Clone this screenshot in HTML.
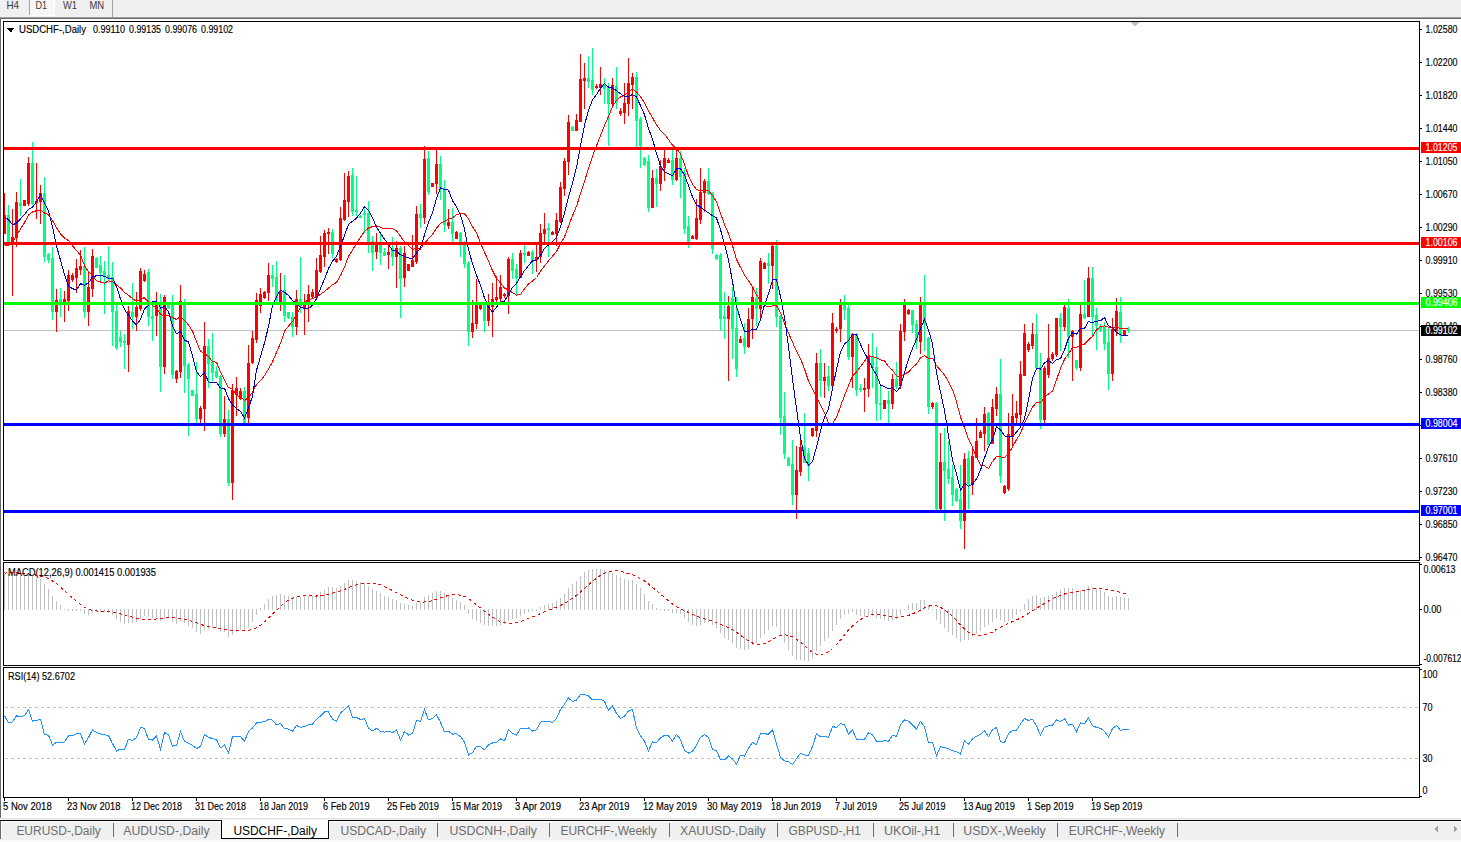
<!DOCTYPE html>
<html><head><meta charset="utf-8"><style>
html,body{margin:0;padding:0;width:1461px;height:842px;overflow:hidden;background:#fff;}
svg{position:absolute;left:0;top:0;font-family:"Liberation Sans",sans-serif;}
</style></head><body>
<svg width="1461" height="842" viewBox="0 0 1461 842" shape-rendering="crispEdges">
<rect x="0" y="0" width="1461" height="17" fill="#f0f0f0"/>
<defs><pattern id="dith" x="0" y="0" width="2" height="2" patternUnits="userSpaceOnUse"><rect x="0" y="0" width="2" height="2" fill="#f0f0f0"/><rect x="0" y="0" width="1" height="1" fill="#ffffff"/><rect x="1" y="1" width="1" height="1" fill="#ffffff"/></pattern></defs>
<rect x="30" y="0" width="24" height="15" fill="url(#dith)"/>
<rect x="29" y="15" width="26" height="1" fill="#ffffff"/>
<rect x="54" y="0" width="1" height="16" fill="#ffffff"/>
<rect x="29" y="0" width="1" height="15" fill="#a0a0a0"/>
<rect x="112" y="0" width="1" height="17" fill="#a0a0a0"/>
<rect x="0" y="17" width="1461" height="1" fill="#a0a0a0"/>
<rect x="0" y="18" width="1461" height="1" fill="#696969"/>
<rect x="0" y="18" width="1" height="800" fill="#696969"/>
<text x="6.5" y="9" font-size="10.5" fill="#3a3a3a" textLength="12.6" lengthAdjust="spacingAndGlyphs" >H4</text>
<text x="35.5" y="9" font-size="10.5" fill="#3a3a3a" textLength="11.7" lengthAdjust="spacingAndGlyphs" >D1</text>
<text x="63" y="9" font-size="10.5" fill="#3a3a3a" textLength="14" lengthAdjust="spacingAndGlyphs" >W1</text>
<text x="89.5" y="9" font-size="10.5" fill="#3a3a3a" textLength="14.7" lengthAdjust="spacingAndGlyphs" >MN</text>
<rect x="4" y="330" width="1415" height="1" fill="#c0c0c0"/>
<polygon points="1130,22 1139,22 1134.5,26.5" fill="#c0c0c0"/>
<g><rect x="4" y="193" width="1" height="41" fill="#ff0000"/>
<rect x="3" y="215" width="3" height="19" fill="#ff0000"/>
<rect x="8" y="205" width="1" height="38" fill="#00ff7f"/>
<rect x="7" y="215" width="3" height="28" fill="#00ff7f"/>
<rect x="12" y="209" width="1" height="87" fill="#ff0000"/>
<rect x="11" y="237" width="3" height="6" fill="#ff0000"/>
<rect x="16" y="192" width="1" height="55" fill="#ff0000"/>
<rect x="15" y="202" width="3" height="36" fill="#ff0000"/>
<rect x="20" y="179" width="1" height="37" fill="#00ff7f"/>
<rect x="19" y="203" width="3" height="3" fill="#00ff7f"/>
<rect x="24" y="200" width="1" height="6" fill="#ff0000"/>
<rect x="23" y="200" width="3" height="6" fill="#ff0000"/>
<rect x="28" y="157" width="1" height="49" fill="#ff0000"/>
<rect x="27" y="163" width="3" height="41" fill="#ff0000"/>
<rect x="32" y="142" width="1" height="63" fill="#00ff7f"/>
<rect x="31" y="163" width="3" height="41" fill="#00ff7f"/>
<rect x="36" y="163" width="1" height="56" fill="#ff0000"/>
<rect x="35" y="201" width="3" height="2" fill="#ff0000"/>
<rect x="40" y="185" width="1" height="39" fill="#ff0000"/>
<rect x="39" y="193" width="3" height="9" fill="#ff0000"/>
<rect x="44" y="177" width="1" height="85" fill="#00ff7f"/>
<rect x="43" y="193" width="3" height="64" fill="#00ff7f"/>
<rect x="48" y="253" width="1" height="10" fill="#00ff7f"/>
<rect x="47" y="254" width="3" height="6" fill="#00ff7f"/>
<rect x="52" y="247" width="1" height="73" fill="#00ff7f"/>
<rect x="51" y="258" width="3" height="54" fill="#00ff7f"/>
<rect x="56" y="289" width="1" height="43" fill="#ff0000"/>
<rect x="55" y="300" width="3" height="12" fill="#ff0000"/>
<rect x="60" y="288" width="1" height="29" fill="#00ff7f"/>
<rect x="59" y="299" width="3" height="4" fill="#00ff7f"/>
<rect x="64" y="291" width="1" height="31" fill="#ff0000"/>
<rect x="63" y="299" width="3" height="4" fill="#ff0000"/>
<rect x="68" y="270" width="1" height="41" fill="#ff0000"/>
<rect x="67" y="275" width="3" height="26" fill="#ff0000"/>
<rect x="72" y="273" width="1" height="9" fill="#ff0000"/>
<rect x="71" y="275" width="3" height="5" fill="#ff0000"/>
<rect x="76" y="259" width="1" height="34" fill="#ff0000"/>
<rect x="75" y="268" width="3" height="10" fill="#ff0000"/>
<rect x="80" y="250" width="1" height="25" fill="#ff0000"/>
<rect x="79" y="266" width="3" height="4" fill="#ff0000"/>
<rect x="84" y="247" width="1" height="71" fill="#00ff7f"/>
<rect x="83" y="266" width="3" height="46" fill="#00ff7f"/>
<rect x="88" y="272" width="1" height="54" fill="#ff0000"/>
<rect x="87" y="287" width="3" height="25" fill="#ff0000"/>
<rect x="92" y="249" width="1" height="48" fill="#ff0000"/>
<rect x="91" y="256" width="3" height="33" fill="#ff0000"/>
<rect x="96" y="257" width="1" height="11" fill="#00ff7f"/>
<rect x="95" y="258" width="3" height="10" fill="#00ff7f"/>
<rect x="100" y="256" width="1" height="27" fill="#00ff7f"/>
<rect x="99" y="265" width="3" height="8" fill="#00ff7f"/>
<rect x="104" y="261" width="1" height="53" fill="#00ff7f"/>
<rect x="103" y="271" width="3" height="6" fill="#00ff7f"/>
<rect x="108" y="246" width="1" height="34" fill="#00ff7f"/>
<rect x="107" y="275" width="3" height="4" fill="#00ff7f"/>
<rect x="112" y="262" width="1" height="84" fill="#00ff7f"/>
<rect x="111" y="277" width="3" height="35" fill="#00ff7f"/>
<rect x="116" y="305" width="1" height="45" fill="#00ff7f"/>
<rect x="115" y="311" width="3" height="37" fill="#00ff7f"/>
<rect x="120" y="331" width="1" height="16" fill="#00ff7f"/>
<rect x="119" y="337" width="3" height="5" fill="#00ff7f"/>
<rect x="124" y="334" width="1" height="35" fill="#00ff7f"/>
<rect x="123" y="341" width="3" height="2" fill="#00ff7f"/>
<rect x="128" y="306" width="1" height="66" fill="#ff0000"/>
<rect x="127" y="311" width="3" height="34" fill="#ff0000"/>
<rect x="132" y="283" width="1" height="46" fill="#00ff7f"/>
<rect x="131" y="312" width="3" height="5" fill="#00ff7f"/>
<rect x="136" y="292" width="1" height="39" fill="#ff0000"/>
<rect x="135" y="307" width="3" height="10" fill="#ff0000"/>
<rect x="140" y="268" width="1" height="43" fill="#ff0000"/>
<rect x="139" y="271" width="3" height="38" fill="#ff0000"/>
<rect x="144" y="270" width="1" height="12" fill="#ff0000"/>
<rect x="143" y="274" width="3" height="7" fill="#ff0000"/>
<rect x="148" y="269" width="1" height="57" fill="#00ff7f"/>
<rect x="147" y="272" width="3" height="45" fill="#00ff7f"/>
<rect x="152" y="306" width="1" height="35" fill="#00ff7f"/>
<rect x="151" y="316" width="3" height="3" fill="#00ff7f"/>
<rect x="156" y="292" width="1" height="44" fill="#ff0000"/>
<rect x="155" y="304" width="3" height="12" fill="#ff0000"/>
<rect x="160" y="294" width="1" height="98" fill="#00ff7f"/>
<rect x="159" y="305" width="3" height="62" fill="#00ff7f"/>
<rect x="164" y="295" width="1" height="79" fill="#ff0000"/>
<rect x="163" y="297" width="3" height="70" fill="#ff0000"/>
<rect x="168" y="304" width="1" height="5" fill="#00ff7f"/>
<rect x="167" y="305" width="3" height="3" fill="#00ff7f"/>
<rect x="172" y="295" width="1" height="84" fill="#00ff7f"/>
<rect x="171" y="305" width="3" height="70" fill="#00ff7f"/>
<rect x="176" y="370" width="1" height="13" fill="#ff0000"/>
<rect x="175" y="371" width="3" height="8" fill="#ff0000"/>
<rect x="180" y="285" width="1" height="93" fill="#ff0000"/>
<rect x="179" y="301" width="3" height="71" fill="#ff0000"/>
<rect x="184" y="299" width="1" height="94" fill="#00ff7f"/>
<rect x="183" y="302" width="3" height="64" fill="#00ff7f"/>
<rect x="188" y="363" width="1" height="73" fill="#00ff7f"/>
<rect x="187" y="365" width="3" height="14" fill="#00ff7f"/>
<rect x="192" y="390" width="1" height="6" fill="#00ff7f"/>
<rect x="191" y="390" width="3" height="6" fill="#00ff7f"/>
<rect x="196" y="362" width="1" height="61" fill="#00ff7f"/>
<rect x="195" y="394" width="3" height="25" fill="#00ff7f"/>
<rect x="200" y="406" width="1" height="17" fill="#ff0000"/>
<rect x="199" y="408" width="3" height="11" fill="#ff0000"/>
<rect x="204" y="322" width="1" height="109" fill="#ff0000"/>
<rect x="203" y="346" width="3" height="63" fill="#ff0000"/>
<rect x="208" y="339" width="1" height="49" fill="#00ff7f"/>
<rect x="207" y="346" width="3" height="18" fill="#00ff7f"/>
<rect x="212" y="333" width="1" height="48" fill="#00ff7f"/>
<rect x="211" y="362" width="3" height="11" fill="#00ff7f"/>
<rect x="216" y="366" width="1" height="12" fill="#00ff7f"/>
<rect x="215" y="371" width="3" height="6" fill="#00ff7f"/>
<rect x="220" y="375" width="1" height="62" fill="#00ff7f"/>
<rect x="219" y="376" width="3" height="58" fill="#00ff7f"/>
<rect x="224" y="396" width="1" height="41" fill="#ff0000"/>
<rect x="223" y="419" width="3" height="15" fill="#ff0000"/>
<rect x="228" y="410" width="1" height="76" fill="#00ff7f"/>
<rect x="227" y="419" width="3" height="64" fill="#00ff7f"/>
<rect x="232" y="384" width="1" height="116" fill="#ff0000"/>
<rect x="231" y="390" width="3" height="93" fill="#ff0000"/>
<rect x="236" y="377" width="1" height="39" fill="#ff0000"/>
<rect x="235" y="388" width="3" height="7" fill="#ff0000"/>
<rect x="240" y="388" width="1" height="12" fill="#ff0000"/>
<rect x="239" y="391" width="3" height="8" fill="#ff0000"/>
<rect x="244" y="387" width="1" height="37" fill="#00ff7f"/>
<rect x="243" y="391" width="3" height="32" fill="#00ff7f"/>
<rect x="248" y="345" width="1" height="79" fill="#ff0000"/>
<rect x="247" y="363" width="3" height="55" fill="#ff0000"/>
<rect x="252" y="331" width="1" height="33" fill="#ff0000"/>
<rect x="251" y="338" width="3" height="25" fill="#ff0000"/>
<rect x="256" y="293" width="1" height="50" fill="#ff0000"/>
<rect x="255" y="300" width="3" height="40" fill="#ff0000"/>
<rect x="260" y="288" width="1" height="25" fill="#ff0000"/>
<rect x="259" y="294" width="3" height="12" fill="#ff0000"/>
<rect x="264" y="291" width="1" height="8" fill="#ff0000"/>
<rect x="263" y="292" width="3" height="6" fill="#ff0000"/>
<rect x="268" y="263" width="1" height="38" fill="#ff0000"/>
<rect x="267" y="275" width="3" height="18" fill="#ff0000"/>
<rect x="272" y="265" width="1" height="22" fill="#00ff7f"/>
<rect x="271" y="275" width="3" height="4" fill="#00ff7f"/>
<rect x="276" y="261" width="1" height="42" fill="#00ff7f"/>
<rect x="275" y="277" width="3" height="24" fill="#00ff7f"/>
<rect x="280" y="273" width="1" height="38" fill="#ff0000"/>
<rect x="279" y="292" width="3" height="11" fill="#ff0000"/>
<rect x="284" y="275" width="1" height="47" fill="#00ff7f"/>
<rect x="283" y="290" width="3" height="26" fill="#00ff7f"/>
<rect x="288" y="312" width="1" height="7" fill="#00ff7f"/>
<rect x="287" y="312" width="3" height="6" fill="#00ff7f"/>
<rect x="292" y="312" width="1" height="25" fill="#00ff7f"/>
<rect x="291" y="317" width="3" height="10" fill="#00ff7f"/>
<rect x="296" y="290" width="1" height="45" fill="#ff0000"/>
<rect x="295" y="299" width="3" height="28" fill="#ff0000"/>
<rect x="300" y="257" width="1" height="56" fill="#00ff7f"/>
<rect x="299" y="299" width="3" height="7" fill="#00ff7f"/>
<rect x="304" y="294" width="1" height="41" fill="#ff0000"/>
<rect x="303" y="304" width="3" height="4" fill="#ff0000"/>
<rect x="308" y="285" width="1" height="37" fill="#ff0000"/>
<rect x="307" y="294" width="3" height="11" fill="#ff0000"/>
<rect x="312" y="289" width="1" height="9" fill="#ff0000"/>
<rect x="311" y="292" width="3" height="5" fill="#ff0000"/>
<rect x="316" y="258" width="1" height="40" fill="#ff0000"/>
<rect x="315" y="270" width="3" height="28" fill="#ff0000"/>
<rect x="320" y="236" width="1" height="37" fill="#ff0000"/>
<rect x="319" y="255" width="3" height="17" fill="#ff0000"/>
<rect x="324" y="230" width="1" height="37" fill="#ff0000"/>
<rect x="323" y="233" width="3" height="24" fill="#ff0000"/>
<rect x="328" y="228" width="1" height="26" fill="#ff0000"/>
<rect x="327" y="232" width="3" height="2" fill="#ff0000"/>
<rect x="332" y="229" width="1" height="29" fill="#00ff7f"/>
<rect x="331" y="232" width="3" height="22" fill="#00ff7f"/>
<rect x="336" y="258" width="1" height="5" fill="#ff0000"/>
<rect x="335" y="259" width="3" height="3" fill="#ff0000"/>
<rect x="340" y="207" width="1" height="54" fill="#ff0000"/>
<rect x="339" y="218" width="3" height="42" fill="#ff0000"/>
<rect x="344" y="173" width="1" height="48" fill="#ff0000"/>
<rect x="343" y="200" width="3" height="20" fill="#ff0000"/>
<rect x="348" y="171" width="1" height="46" fill="#ff0000"/>
<rect x="347" y="176" width="3" height="26" fill="#ff0000"/>
<rect x="352" y="168" width="1" height="48" fill="#00ff7f"/>
<rect x="351" y="175" width="3" height="37" fill="#00ff7f"/>
<rect x="356" y="176" width="1" height="40" fill="#00ff7f"/>
<rect x="355" y="210" width="3" height="2" fill="#00ff7f"/>
<rect x="360" y="215" width="1" height="3" fill="#00ff7f"/>
<rect x="359" y="216" width="3" height="2" fill="#00ff7f"/>
<rect x="364" y="209" width="1" height="24" fill="#00ff7f"/>
<rect x="363" y="213" width="3" height="2" fill="#00ff7f"/>
<rect x="368" y="201" width="1" height="52" fill="#00ff7f"/>
<rect x="367" y="213" width="3" height="31" fill="#00ff7f"/>
<rect x="372" y="236" width="1" height="35" fill="#00ff7f"/>
<rect x="371" y="241" width="3" height="12" fill="#00ff7f"/>
<rect x="376" y="233" width="1" height="26" fill="#ff0000"/>
<rect x="375" y="243" width="3" height="9" fill="#ff0000"/>
<rect x="380" y="233" width="1" height="32" fill="#00ff7f"/>
<rect x="379" y="244" width="3" height="9" fill="#00ff7f"/>
<rect x="384" y="248" width="1" height="8" fill="#00ff7f"/>
<rect x="383" y="252" width="3" height="4" fill="#00ff7f"/>
<rect x="388" y="243" width="1" height="26" fill="#ff0000"/>
<rect x="387" y="252" width="3" height="3" fill="#ff0000"/>
<rect x="392" y="237" width="1" height="29" fill="#00ff7f"/>
<rect x="391" y="248" width="3" height="9" fill="#00ff7f"/>
<rect x="396" y="241" width="1" height="47" fill="#ff0000"/>
<rect x="395" y="248" width="3" height="9" fill="#ff0000"/>
<rect x="400" y="246" width="1" height="72" fill="#00ff7f"/>
<rect x="399" y="248" width="3" height="31" fill="#00ff7f"/>
<rect x="404" y="246" width="1" height="41" fill="#ff0000"/>
<rect x="403" y="253" width="3" height="25" fill="#ff0000"/>
<rect x="408" y="264" width="1" height="7" fill="#ff0000"/>
<rect x="407" y="264" width="3" height="7" fill="#ff0000"/>
<rect x="412" y="235" width="1" height="32" fill="#ff0000"/>
<rect x="411" y="260" width="3" height="7" fill="#ff0000"/>
<rect x="416" y="206" width="1" height="58" fill="#ff0000"/>
<rect x="415" y="214" width="3" height="48" fill="#ff0000"/>
<rect x="420" y="204" width="1" height="24" fill="#00ff7f"/>
<rect x="419" y="214" width="3" height="4" fill="#00ff7f"/>
<rect x="424" y="146" width="1" height="78" fill="#ff0000"/>
<rect x="423" y="159" width="3" height="59" fill="#ff0000"/>
<rect x="428" y="151" width="1" height="44" fill="#00ff7f"/>
<rect x="427" y="158" width="3" height="34" fill="#00ff7f"/>
<rect x="432" y="183" width="1" height="4" fill="#ff0000"/>
<rect x="431" y="183" width="3" height="4" fill="#ff0000"/>
<rect x="436" y="149" width="1" height="45" fill="#ff0000"/>
<rect x="435" y="164" width="3" height="20" fill="#ff0000"/>
<rect x="440" y="156" width="1" height="44" fill="#00ff7f"/>
<rect x="439" y="164" width="3" height="25" fill="#00ff7f"/>
<rect x="444" y="180" width="1" height="52" fill="#00ff7f"/>
<rect x="443" y="188" width="3" height="37" fill="#00ff7f"/>
<rect x="448" y="209" width="1" height="20" fill="#ff0000"/>
<rect x="447" y="222" width="3" height="4" fill="#ff0000"/>
<rect x="452" y="208" width="1" height="35" fill="#00ff7f"/>
<rect x="451" y="222" width="3" height="12" fill="#00ff7f"/>
<rect x="456" y="231" width="1" height="8" fill="#ff0000"/>
<rect x="455" y="232" width="3" height="7" fill="#ff0000"/>
<rect x="460" y="232" width="1" height="25" fill="#00ff7f"/>
<rect x="459" y="233" width="3" height="10" fill="#00ff7f"/>
<rect x="464" y="241" width="1" height="27" fill="#00ff7f"/>
<rect x="463" y="243" width="3" height="21" fill="#00ff7f"/>
<rect x="468" y="261" width="1" height="85" fill="#00ff7f"/>
<rect x="467" y="263" width="3" height="69" fill="#00ff7f"/>
<rect x="472" y="300" width="1" height="38" fill="#ff0000"/>
<rect x="471" y="323" width="3" height="9" fill="#ff0000"/>
<rect x="476" y="279" width="1" height="50" fill="#ff0000"/>
<rect x="475" y="302" width="3" height="22" fill="#ff0000"/>
<rect x="480" y="304" width="1" height="6" fill="#ff0000"/>
<rect x="479" y="305" width="3" height="4" fill="#ff0000"/>
<rect x="484" y="302" width="1" height="30" fill="#00ff7f"/>
<rect x="483" y="305" width="3" height="16" fill="#00ff7f"/>
<rect x="488" y="294" width="1" height="32" fill="#ff0000"/>
<rect x="487" y="305" width="3" height="16" fill="#ff0000"/>
<rect x="492" y="283" width="1" height="54" fill="#ff0000"/>
<rect x="491" y="299" width="3" height="8" fill="#ff0000"/>
<rect x="496" y="276" width="1" height="27" fill="#ff0000"/>
<rect x="495" y="297" width="3" height="3" fill="#ff0000"/>
<rect x="500" y="275" width="1" height="28" fill="#ff0000"/>
<rect x="499" y="287" width="3" height="12" fill="#ff0000"/>
<rect x="504" y="293" width="1" height="5" fill="#ff0000"/>
<rect x="503" y="294" width="3" height="2" fill="#ff0000"/>
<rect x="508" y="257" width="1" height="57" fill="#ff0000"/>
<rect x="507" y="259" width="3" height="37" fill="#ff0000"/>
<rect x="512" y="253" width="1" height="26" fill="#00ff7f"/>
<rect x="511" y="259" width="3" height="12" fill="#00ff7f"/>
<rect x="516" y="264" width="1" height="31" fill="#00ff7f"/>
<rect x="515" y="269" width="3" height="9" fill="#00ff7f"/>
<rect x="520" y="250" width="1" height="28" fill="#ff0000"/>
<rect x="519" y="253" width="3" height="25" fill="#ff0000"/>
<rect x="524" y="245" width="1" height="18" fill="#00ff7f"/>
<rect x="523" y="253" width="3" height="2" fill="#00ff7f"/>
<rect x="528" y="251" width="1" height="5" fill="#ff0000"/>
<rect x="527" y="252" width="3" height="4" fill="#ff0000"/>
<rect x="532" y="250" width="1" height="24" fill="#00ff7f"/>
<rect x="531" y="252" width="3" height="10" fill="#00ff7f"/>
<rect x="536" y="245" width="1" height="27" fill="#ff0000"/>
<rect x="535" y="257" width="3" height="3" fill="#ff0000"/>
<rect x="540" y="224" width="1" height="39" fill="#ff0000"/>
<rect x="539" y="233" width="3" height="24" fill="#ff0000"/>
<rect x="544" y="213" width="1" height="31" fill="#ff0000"/>
<rect x="543" y="229" width="3" height="5" fill="#ff0000"/>
<rect x="548" y="223" width="1" height="34" fill="#00ff7f"/>
<rect x="547" y="228" width="3" height="2" fill="#00ff7f"/>
<rect x="552" y="231" width="1" height="4" fill="#ff0000"/>
<rect x="551" y="232" width="3" height="3" fill="#ff0000"/>
<rect x="556" y="213" width="1" height="33" fill="#ff0000"/>
<rect x="555" y="220" width="3" height="14" fill="#ff0000"/>
<rect x="560" y="182" width="1" height="41" fill="#ff0000"/>
<rect x="559" y="187" width="3" height="35" fill="#ff0000"/>
<rect x="564" y="158" width="1" height="38" fill="#ff0000"/>
<rect x="563" y="161" width="3" height="28" fill="#ff0000"/>
<rect x="568" y="115" width="1" height="60" fill="#ff0000"/>
<rect x="567" y="122" width="3" height="40" fill="#ff0000"/>
<rect x="572" y="126" width="1" height="5" fill="#00ff7f"/>
<rect x="571" y="127" width="3" height="4" fill="#00ff7f"/>
<rect x="576" y="114" width="1" height="17" fill="#ff0000"/>
<rect x="575" y="120" width="3" height="11" fill="#ff0000"/>
<rect x="580" y="54" width="1" height="68" fill="#ff0000"/>
<rect x="579" y="79" width="3" height="43" fill="#ff0000"/>
<rect x="584" y="63" width="1" height="46" fill="#ff0000"/>
<rect x="583" y="78" width="3" height="3" fill="#ff0000"/>
<rect x="588" y="56" width="1" height="32" fill="#00ff7f"/>
<rect x="587" y="78" width="3" height="4" fill="#00ff7f"/>
<rect x="592" y="48" width="1" height="47" fill="#00ff7f"/>
<rect x="591" y="80" width="3" height="10" fill="#00ff7f"/>
<rect x="596" y="84" width="1" height="5" fill="#ff0000"/>
<rect x="595" y="86" width="3" height="2" fill="#ff0000"/>
<rect x="600" y="67" width="1" height="28" fill="#ff0000"/>
<rect x="599" y="84" width="3" height="4" fill="#ff0000"/>
<rect x="604" y="78" width="1" height="26" fill="#00ff7f"/>
<rect x="603" y="84" width="3" height="5" fill="#00ff7f"/>
<rect x="608" y="83" width="1" height="63" fill="#00ff7f"/>
<rect x="607" y="87" width="3" height="17" fill="#00ff7f"/>
<rect x="612" y="78" width="1" height="28" fill="#ff0000"/>
<rect x="611" y="85" width="3" height="19" fill="#ff0000"/>
<rect x="616" y="67" width="1" height="42" fill="#00ff7f"/>
<rect x="615" y="86" width="3" height="15" fill="#00ff7f"/>
<rect x="620" y="108" width="1" height="8" fill="#ff0000"/>
<rect x="619" y="111" width="3" height="3" fill="#ff0000"/>
<rect x="624" y="83" width="1" height="41" fill="#ff0000"/>
<rect x="623" y="103" width="3" height="10" fill="#ff0000"/>
<rect x="628" y="58" width="1" height="58" fill="#ff0000"/>
<rect x="627" y="83" width="3" height="21" fill="#ff0000"/>
<rect x="632" y="73" width="1" height="36" fill="#ff0000"/>
<rect x="631" y="77" width="3" height="8" fill="#ff0000"/>
<rect x="636" y="72" width="1" height="76" fill="#00ff7f"/>
<rect x="635" y="77" width="3" height="44" fill="#00ff7f"/>
<rect x="640" y="117" width="1" height="51" fill="#00ff7f"/>
<rect x="639" y="119" width="3" height="27" fill="#00ff7f"/>
<rect x="644" y="157" width="1" height="9" fill="#00ff7f"/>
<rect x="643" y="158" width="3" height="7" fill="#00ff7f"/>
<rect x="648" y="155" width="1" height="57" fill="#00ff7f"/>
<rect x="647" y="161" width="3" height="47" fill="#00ff7f"/>
<rect x="652" y="170" width="1" height="38" fill="#ff0000"/>
<rect x="651" y="178" width="3" height="30" fill="#ff0000"/>
<rect x="656" y="169" width="1" height="38" fill="#00ff7f"/>
<rect x="655" y="178" width="3" height="6" fill="#00ff7f"/>
<rect x="660" y="160" width="1" height="31" fill="#ff0000"/>
<rect x="659" y="166" width="3" height="18" fill="#ff0000"/>
<rect x="664" y="150" width="1" height="31" fill="#ff0000"/>
<rect x="663" y="158" width="3" height="10" fill="#ff0000"/>
<rect x="668" y="158" width="1" height="5" fill="#ff0000"/>
<rect x="667" y="160" width="3" height="3" fill="#ff0000"/>
<rect x="672" y="150" width="1" height="35" fill="#00ff7f"/>
<rect x="671" y="160" width="3" height="20" fill="#00ff7f"/>
<rect x="676" y="147" width="1" height="34" fill="#ff0000"/>
<rect x="675" y="158" width="3" height="22" fill="#ff0000"/>
<rect x="680" y="151" width="1" height="47" fill="#00ff7f"/>
<rect x="679" y="158" width="3" height="19" fill="#00ff7f"/>
<rect x="684" y="168" width="1" height="66" fill="#00ff7f"/>
<rect x="683" y="173" width="3" height="56" fill="#00ff7f"/>
<rect x="688" y="216" width="1" height="32" fill="#00ff7f"/>
<rect x="687" y="226" width="3" height="16" fill="#00ff7f"/>
<rect x="692" y="235" width="1" height="4" fill="#ff0000"/>
<rect x="691" y="236" width="3" height="3" fill="#ff0000"/>
<rect x="696" y="199" width="1" height="41" fill="#ff0000"/>
<rect x="695" y="218" width="3" height="21" fill="#ff0000"/>
<rect x="700" y="168" width="1" height="56" fill="#ff0000"/>
<rect x="699" y="192" width="3" height="28" fill="#ff0000"/>
<rect x="704" y="179" width="1" height="33" fill="#ff0000"/>
<rect x="703" y="181" width="3" height="12" fill="#ff0000"/>
<rect x="708" y="168" width="1" height="27" fill="#00ff7f"/>
<rect x="707" y="181" width="3" height="13" fill="#00ff7f"/>
<rect x="712" y="192" width="1" height="62" fill="#00ff7f"/>
<rect x="711" y="193" width="3" height="56" fill="#00ff7f"/>
<rect x="716" y="254" width="1" height="6" fill="#00ff7f"/>
<rect x="715" y="255" width="3" height="4" fill="#00ff7f"/>
<rect x="720" y="253" width="1" height="78" fill="#00ff7f"/>
<rect x="719" y="255" width="3" height="64" fill="#00ff7f"/>
<rect x="724" y="292" width="1" height="47" fill="#00ff7f"/>
<rect x="723" y="316" width="3" height="3" fill="#00ff7f"/>
<rect x="728" y="296" width="1" height="85" fill="#ff0000"/>
<rect x="727" y="306" width="3" height="13" fill="#ff0000"/>
<rect x="732" y="287" width="1" height="72" fill="#00ff7f"/>
<rect x="731" y="298" width="3" height="31" fill="#00ff7f"/>
<rect x="736" y="297" width="1" height="80" fill="#00ff7f"/>
<rect x="735" y="328" width="3" height="41" fill="#00ff7f"/>
<rect x="740" y="336" width="1" height="7" fill="#ff0000"/>
<rect x="739" y="339" width="3" height="4" fill="#ff0000"/>
<rect x="744" y="323" width="1" height="31" fill="#00ff7f"/>
<rect x="743" y="338" width="3" height="9" fill="#00ff7f"/>
<rect x="748" y="308" width="1" height="40" fill="#ff0000"/>
<rect x="747" y="319" width="3" height="28" fill="#ff0000"/>
<rect x="752" y="287" width="1" height="52" fill="#ff0000"/>
<rect x="751" y="297" width="3" height="22" fill="#ff0000"/>
<rect x="756" y="288" width="1" height="38" fill="#00ff7f"/>
<rect x="755" y="298" width="3" height="11" fill="#00ff7f"/>
<rect x="760" y="258" width="1" height="61" fill="#ff0000"/>
<rect x="759" y="261" width="3" height="48" fill="#ff0000"/>
<rect x="764" y="262" width="1" height="7" fill="#ff0000"/>
<rect x="763" y="263" width="3" height="6" fill="#ff0000"/>
<rect x="768" y="253" width="1" height="31" fill="#00ff7f"/>
<rect x="767" y="263" width="3" height="3" fill="#00ff7f"/>
<rect x="772" y="245" width="1" height="44" fill="#ff0000"/>
<rect x="771" y="246" width="3" height="20" fill="#ff0000"/>
<rect x="776" y="240" width="1" height="87" fill="#00ff7f"/>
<rect x="775" y="246" width="3" height="71" fill="#00ff7f"/>
<rect x="780" y="315" width="1" height="120" fill="#00ff7f"/>
<rect x="779" y="316" width="3" height="102" fill="#00ff7f"/>
<rect x="784" y="392" width="1" height="67" fill="#00ff7f"/>
<rect x="783" y="416" width="3" height="38" fill="#00ff7f"/>
<rect x="788" y="457" width="1" height="9" fill="#00ff7f"/>
<rect x="787" y="458" width="3" height="8" fill="#00ff7f"/>
<rect x="792" y="440" width="1" height="65" fill="#00ff7f"/>
<rect x="791" y="464" width="3" height="31" fill="#00ff7f"/>
<rect x="796" y="446" width="1" height="73" fill="#ff0000"/>
<rect x="795" y="470" width="3" height="25" fill="#ff0000"/>
<rect x="800" y="440" width="1" height="36" fill="#ff0000"/>
<rect x="799" y="447" width="3" height="25" fill="#ff0000"/>
<rect x="804" y="413" width="1" height="50" fill="#00ff7f"/>
<rect x="803" y="447" width="3" height="16" fill="#00ff7f"/>
<rect x="808" y="448" width="1" height="33" fill="#00ff7f"/>
<rect x="807" y="453" width="3" height="13" fill="#00ff7f"/>
<rect x="812" y="428" width="1" height="9" fill="#ff0000"/>
<rect x="811" y="428" width="3" height="8" fill="#ff0000"/>
<rect x="816" y="353" width="1" height="84" fill="#ff0000"/>
<rect x="815" y="363" width="3" height="68" fill="#ff0000"/>
<rect x="820" y="349" width="1" height="48" fill="#00ff7f"/>
<rect x="819" y="363" width="3" height="18" fill="#00ff7f"/>
<rect x="824" y="363" width="1" height="35" fill="#ff0000"/>
<rect x="823" y="377" width="3" height="4" fill="#ff0000"/>
<rect x="828" y="366" width="1" height="25" fill="#00ff7f"/>
<rect x="827" y="376" width="3" height="10" fill="#00ff7f"/>
<rect x="832" y="313" width="1" height="73" fill="#ff0000"/>
<rect x="831" y="323" width="3" height="63" fill="#ff0000"/>
<rect x="836" y="327" width="1" height="6" fill="#ff0000"/>
<rect x="835" y="329" width="3" height="2" fill="#ff0000"/>
<rect x="840" y="299" width="1" height="43" fill="#ff0000"/>
<rect x="839" y="305" width="3" height="24" fill="#ff0000"/>
<rect x="844" y="295" width="1" height="25" fill="#00ff7f"/>
<rect x="843" y="305" width="3" height="5" fill="#00ff7f"/>
<rect x="848" y="305" width="1" height="55" fill="#00ff7f"/>
<rect x="847" y="308" width="3" height="49" fill="#00ff7f"/>
<rect x="852" y="333" width="1" height="55" fill="#ff0000"/>
<rect x="851" y="334" width="3" height="23" fill="#ff0000"/>
<rect x="856" y="333" width="1" height="63" fill="#00ff7f"/>
<rect x="855" y="334" width="3" height="56" fill="#00ff7f"/>
<rect x="860" y="384" width="1" height="8" fill="#00ff7f"/>
<rect x="859" y="388" width="3" height="2" fill="#00ff7f"/>
<rect x="864" y="378" width="1" height="34" fill="#ff0000"/>
<rect x="863" y="388" width="3" height="2" fill="#ff0000"/>
<rect x="868" y="344" width="1" height="53" fill="#ff0000"/>
<rect x="867" y="356" width="3" height="33" fill="#ff0000"/>
<rect x="872" y="333" width="1" height="55" fill="#00ff7f"/>
<rect x="871" y="356" width="3" height="12" fill="#00ff7f"/>
<rect x="876" y="347" width="1" height="74" fill="#00ff7f"/>
<rect x="875" y="367" width="3" height="37" fill="#00ff7f"/>
<rect x="880" y="385" width="1" height="35" fill="#00ff7f"/>
<rect x="879" y="403" width="3" height="2" fill="#00ff7f"/>
<rect x="884" y="400" width="1" height="9" fill="#ff0000"/>
<rect x="883" y="400" width="3" height="9" fill="#ff0000"/>
<rect x="888" y="391" width="1" height="35" fill="#00ff7f"/>
<rect x="887" y="400" width="3" height="4" fill="#00ff7f"/>
<rect x="892" y="374" width="1" height="35" fill="#ff0000"/>
<rect x="891" y="379" width="3" height="25" fill="#ff0000"/>
<rect x="896" y="362" width="1" height="27" fill="#00ff7f"/>
<rect x="895" y="379" width="3" height="8" fill="#00ff7f"/>
<rect x="900" y="324" width="1" height="65" fill="#ff0000"/>
<rect x="899" y="331" width="3" height="55" fill="#ff0000"/>
<rect x="904" y="299" width="1" height="42" fill="#ff0000"/>
<rect x="903" y="305" width="3" height="27" fill="#ff0000"/>
<rect x="908" y="309" width="1" height="6" fill="#ff0000"/>
<rect x="907" y="310" width="3" height="4" fill="#ff0000"/>
<rect x="912" y="310" width="1" height="23" fill="#00ff7f"/>
<rect x="911" y="310" width="3" height="15" fill="#00ff7f"/>
<rect x="916" y="320" width="1" height="29" fill="#00ff7f"/>
<rect x="915" y="324" width="3" height="17" fill="#00ff7f"/>
<rect x="920" y="297" width="1" height="57" fill="#ff0000"/>
<rect x="919" y="302" width="3" height="40" fill="#ff0000"/>
<rect x="924" y="275" width="1" height="76" fill="#00ff7f"/>
<rect x="923" y="302" width="3" height="22" fill="#00ff7f"/>
<rect x="928" y="337" width="1" height="77" fill="#00ff7f"/>
<rect x="927" y="338" width="3" height="69" fill="#00ff7f"/>
<rect x="932" y="402" width="1" height="7" fill="#ff0000"/>
<rect x="931" y="403" width="3" height="4" fill="#ff0000"/>
<rect x="936" y="402" width="1" height="109" fill="#00ff7f"/>
<rect x="935" y="403" width="3" height="106" fill="#00ff7f"/>
<rect x="940" y="433" width="1" height="77" fill="#ff0000"/>
<rect x="939" y="462" width="3" height="47" fill="#ff0000"/>
<rect x="944" y="428" width="1" height="93" fill="#00ff7f"/>
<rect x="943" y="462" width="3" height="9" fill="#00ff7f"/>
<rect x="948" y="441" width="1" height="43" fill="#00ff7f"/>
<rect x="947" y="469" width="3" height="10" fill="#00ff7f"/>
<rect x="952" y="465" width="1" height="41" fill="#00ff7f"/>
<rect x="951" y="477" width="3" height="18" fill="#00ff7f"/>
<rect x="956" y="488" width="1" height="14" fill="#00ff7f"/>
<rect x="955" y="489" width="3" height="12" fill="#00ff7f"/>
<rect x="960" y="465" width="1" height="64" fill="#00ff7f"/>
<rect x="959" y="499" width="3" height="22" fill="#00ff7f"/>
<rect x="964" y="453" width="1" height="96" fill="#ff0000"/>
<rect x="963" y="459" width="3" height="62" fill="#ff0000"/>
<rect x="968" y="451" width="1" height="58" fill="#00ff7f"/>
<rect x="967" y="458" width="3" height="26" fill="#00ff7f"/>
<rect x="972" y="446" width="1" height="49" fill="#ff0000"/>
<rect x="971" y="456" width="3" height="29" fill="#ff0000"/>
<rect x="976" y="418" width="1" height="40" fill="#ff0000"/>
<rect x="975" y="441" width="3" height="17" fill="#ff0000"/>
<rect x="980" y="430" width="1" height="8" fill="#ff0000"/>
<rect x="979" y="432" width="3" height="6" fill="#ff0000"/>
<rect x="984" y="407" width="1" height="44" fill="#ff0000"/>
<rect x="983" y="414" width="3" height="20" fill="#ff0000"/>
<rect x="988" y="412" width="1" height="33" fill="#00ff7f"/>
<rect x="987" y="413" width="3" height="32" fill="#00ff7f"/>
<rect x="992" y="399" width="1" height="45" fill="#ff0000"/>
<rect x="991" y="407" width="3" height="37" fill="#ff0000"/>
<rect x="996" y="387" width="1" height="29" fill="#ff0000"/>
<rect x="995" y="394" width="3" height="15" fill="#ff0000"/>
<rect x="1000" y="359" width="1" height="124" fill="#00ff7f"/>
<rect x="999" y="394" width="3" height="82" fill="#00ff7f"/>
<rect x="1004" y="485" width="1" height="9" fill="#ff0000"/>
<rect x="1003" y="486" width="3" height="7" fill="#ff0000"/>
<rect x="1008" y="413" width="1" height="78" fill="#ff0000"/>
<rect x="1007" y="434" width="3" height="55" fill="#ff0000"/>
<rect x="1012" y="394" width="1" height="53" fill="#ff0000"/>
<rect x="1011" y="416" width="3" height="21" fill="#ff0000"/>
<rect x="1016" y="401" width="1" height="25" fill="#ff0000"/>
<rect x="1015" y="413" width="3" height="5" fill="#ff0000"/>
<rect x="1020" y="361" width="1" height="63" fill="#ff0000"/>
<rect x="1019" y="374" width="3" height="41" fill="#ff0000"/>
<rect x="1024" y="324" width="1" height="52" fill="#ff0000"/>
<rect x="1023" y="333" width="3" height="43" fill="#ff0000"/>
<rect x="1028" y="342" width="1" height="10" fill="#ff0000"/>
<rect x="1027" y="344" width="3" height="6" fill="#ff0000"/>
<rect x="1032" y="323" width="1" height="26" fill="#ff0000"/>
<rect x="1031" y="334" width="3" height="12" fill="#ff0000"/>
<rect x="1036" y="314" width="1" height="54" fill="#00ff7f"/>
<rect x="1035" y="334" width="3" height="34" fill="#00ff7f"/>
<rect x="1040" y="353" width="1" height="76" fill="#00ff7f"/>
<rect x="1039" y="367" width="3" height="53" fill="#00ff7f"/>
<rect x="1044" y="366" width="1" height="57" fill="#ff0000"/>
<rect x="1043" y="368" width="3" height="52" fill="#ff0000"/>
<rect x="1048" y="324" width="1" height="54" fill="#ff0000"/>
<rect x="1047" y="358" width="3" height="17" fill="#ff0000"/>
<rect x="1052" y="352" width="1" height="9" fill="#ff0000"/>
<rect x="1051" y="354" width="3" height="5" fill="#ff0000"/>
<rect x="1056" y="318" width="1" height="39" fill="#ff0000"/>
<rect x="1055" y="318" width="3" height="37" fill="#ff0000"/>
<rect x="1060" y="313" width="1" height="38" fill="#00ff7f"/>
<rect x="1059" y="318" width="3" height="9" fill="#00ff7f"/>
<rect x="1064" y="305" width="1" height="26" fill="#ff0000"/>
<rect x="1063" y="307" width="3" height="20" fill="#ff0000"/>
<rect x="1068" y="299" width="1" height="59" fill="#00ff7f"/>
<rect x="1067" y="308" width="3" height="29" fill="#00ff7f"/>
<rect x="1072" y="330" width="1" height="51" fill="#ff0000"/>
<rect x="1071" y="331" width="3" height="6" fill="#ff0000"/>
<rect x="1076" y="360" width="1" height="10" fill="#00ff7f"/>
<rect x="1075" y="360" width="3" height="8" fill="#00ff7f"/>
<rect x="1080" y="305" width="1" height="66" fill="#ff0000"/>
<rect x="1079" y="314" width="3" height="54" fill="#ff0000"/>
<rect x="1084" y="280" width="1" height="39" fill="#00ff7f"/>
<rect x="1083" y="314" width="3" height="4" fill="#00ff7f"/>
<rect x="1088" y="267" width="1" height="50" fill="#ff0000"/>
<rect x="1087" y="278" width="3" height="39" fill="#ff0000"/>
<rect x="1092" y="267" width="1" height="70" fill="#00ff7f"/>
<rect x="1091" y="278" width="3" height="39" fill="#00ff7f"/>
<rect x="1096" y="308" width="1" height="42" fill="#00ff7f"/>
<rect x="1095" y="315" width="3" height="11" fill="#00ff7f"/>
<rect x="1100" y="324" width="1" height="8" fill="#00ff7f"/>
<rect x="1099" y="326" width="3" height="4" fill="#00ff7f"/>
<rect x="1104" y="322" width="1" height="28" fill="#00ff7f"/>
<rect x="1103" y="326" width="3" height="18" fill="#00ff7f"/>
<rect x="1108" y="327" width="1" height="63" fill="#00ff7f"/>
<rect x="1107" y="342" width="3" height="32" fill="#00ff7f"/>
<rect x="1112" y="318" width="1" height="63" fill="#ff0000"/>
<rect x="1111" y="329" width="3" height="45" fill="#ff0000"/>
<rect x="1116" y="298" width="1" height="38" fill="#ff0000"/>
<rect x="1115" y="311" width="3" height="20" fill="#ff0000"/>
<rect x="1120" y="297" width="1" height="46" fill="#00ff7f"/>
<rect x="1119" y="312" width="3" height="23" fill="#00ff7f"/>
<rect x="1124" y="330" width="1" height="6" fill="#ff0000"/>
<rect x="1123" y="330" width="3" height="6" fill="#ff0000"/>
<rect x="1128" y="327" width="1" height="6" fill="#00ff7f"/>
<rect x="1127" y="329" width="3" height="2" fill="#00ff7f"/></g>
<g><polyline points="4.5,246.2 8.5,245.1 12.5,242.2 16.5,235.7 20.5,228.9 24.5,222.6 28.5,215.1 32.5,212.0 36.5,210.7 40.5,210.0 44.5,213.1 48.5,214.7 52.5,220.6 56.5,227.6 60.5,233.9 64.5,237.9 68.5,240.6 72.5,245.9 76.5,250.4 80.5,255.1 84.5,265.6 88.5,271.6 92.5,275.6 96.5,280.9 100.5,282.0 104.5,283.2 108.5,280.9 112.5,281.6 116.5,284.9 120.5,287.9 124.5,292.6 128.5,295.2 132.5,298.6 136.5,301.6 140.5,298.7 144.5,297.8 148.5,302.1 152.5,305.7 156.5,308.0 160.5,314.4 164.5,315.8 168.5,315.5 172.5,317.4 176.5,319.6 180.5,316.6 184.5,320.5 188.5,324.9 192.5,331.2 196.5,341.7 200.5,351.3 204.5,353.4 208.5,356.6 212.5,361.5 216.5,362.2 220.5,371.9 224.5,379.9 228.5,387.6 232.5,389.0 236.5,395.2 240.5,397.1 244.5,400.2 248.5,397.9 252.5,392.2 256.5,384.5 260.5,380.8 264.5,375.7 268.5,368.8 272.5,361.8 276.5,352.3 280.5,343.2 284.5,331.3 288.5,326.1 292.5,321.6 296.5,315.1 300.5,306.7 304.5,302.5 308.5,299.4 312.5,298.8 316.5,297.1 320.5,294.4 324.5,291.4 328.5,288.1 332.5,284.8 336.5,282.4 340.5,275.5 344.5,267.1 348.5,256.4 352.5,250.1 356.5,243.4 360.5,237.2 364.5,231.5 368.5,228.0 372.5,226.7 376.5,225.9 380.5,227.2 384.5,228.9 388.5,228.8 392.5,228.6 396.5,230.7 400.5,236.3 404.5,241.8 408.5,245.6 412.5,249.1 416.5,248.9 420.5,249.1 424.5,243.1 428.5,238.7 432.5,234.4 436.5,228.1 440.5,223.4 444.5,221.4 448.5,218.9 452.5,217.9 456.5,214.6 460.5,213.8 464.5,213.7 468.5,218.8 472.5,226.6 476.5,232.6 480.5,243.1 484.5,252.3 488.5,261.0 492.5,270.6 496.5,278.4 500.5,282.9 504.5,288.1 508.5,289.9 512.5,292.6 516.5,295.1 520.5,294.4 524.5,288.9 528.5,283.9 532.5,280.9 536.5,277.5 540.5,271.3 544.5,265.9 548.5,260.9 552.5,256.2 556.5,251.4 560.5,243.8 564.5,236.8 568.5,226.2 572.5,215.7 576.5,206.2 580.5,193.7 584.5,181.3 588.5,168.4 592.5,156.4 596.5,145.9 600.5,135.6 604.5,125.5 608.5,116.3 612.5,106.6 616.5,100.4 620.5,96.9 624.5,95.5 628.5,92.1 632.5,89.1 636.5,92.0 640.5,96.8 644.5,102.7 648.5,111.1 652.5,117.7 656.5,124.8 660.5,130.4 664.5,134.3 668.5,139.6 672.5,145.3 676.5,148.6 680.5,153.9 684.5,164.2 688.5,175.9 692.5,184.2 696.5,189.4 700.5,191.4 704.5,189.6 708.5,190.6 712.5,195.3 716.5,201.9 720.5,213.3 724.5,224.6 728.5,233.6 732.5,245.8 736.5,259.5 740.5,267.4 744.5,274.9 748.5,280.9 752.5,286.5 756.5,294.8 760.5,300.5 764.5,305.5 768.5,306.7 772.5,305.9 776.5,305.7 780.5,312.8 784.5,323.3 788.5,333.1 792.5,342.1 796.5,351.4 800.5,358.6 804.5,368.9 808.5,380.9 812.5,389.4 816.5,396.7 820.5,405.1 824.5,413.1 828.5,423.0 832.5,423.5 836.5,417.2 840.5,406.6 844.5,395.5 848.5,385.6 852.5,375.9 856.5,371.8 860.5,366.6 864.5,361.1 868.5,355.9 872.5,356.2 876.5,357.9 880.5,359.8 884.5,360.9 888.5,366.6 892.5,370.1 896.5,375.9 900.5,377.5 904.5,373.9 908.5,372.1 912.5,367.5 916.5,364.0 920.5,357.9 924.5,355.5 928.5,358.3 932.5,358.3 936.5,365.7 940.5,370.1 944.5,374.9 948.5,382.0 952.5,389.7 956.5,401.8 960.5,417.1 964.5,427.8 968.5,439.1 972.5,447.4 976.5,457.4 980.5,465.1 984.5,465.7 988.5,468.6 992.5,461.4 996.5,456.6 1000.5,456.9 1004.5,457.5 1008.5,453.2 1012.5,447.2 1016.5,439.6 1020.5,433.5 1024.5,422.8 1028.5,414.8 1032.5,407.1 1036.5,402.5 1040.5,402.9 1044.5,397.4 1048.5,393.9 1052.5,391.1 1056.5,379.9 1060.5,368.4 1064.5,359.4 1068.5,353.6 1072.5,347.8 1076.5,347.3 1080.5,345.9 1084.5,344.0 1088.5,340.0 1092.5,336.4 1096.5,329.6 1100.5,326.9 1104.5,325.8 1108.5,327.1 1112.5,327.9 1116.5,326.9 1120.5,328.8 1124.5,328.4 1128.5,328.3" fill="none" stroke="#ff0000" stroke-width="1" />
<polyline points="4.5,216.6 8.5,219.7 12.5,224.8 16.5,223.2 20.5,218.8 24.5,214.7 28.5,209.1 32.5,207.4 36.5,201.6 40.5,195.3 44.5,203.0 48.5,210.7 52.5,226.6 56.5,246.1 60.5,260.3 64.5,274.3 68.5,286.0 72.5,288.7 76.5,290.0 80.5,283.6 84.5,285.1 88.5,283.0 92.5,276.9 96.5,275.7 100.5,275.3 104.5,276.4 108.5,278.1 112.5,278.1 116.5,286.7 120.5,298.9 124.5,309.6 128.5,315.1 132.5,320.9 136.5,325.0 140.5,319.3 144.5,308.9 148.5,305.3 152.5,301.9 156.5,300.9 160.5,308.0 164.5,306.6 168.5,311.7 172.5,326.0 176.5,333.9 180.5,331.4 184.5,340.1 188.5,341.9 192.5,355.9 196.5,371.7 200.5,376.6 204.5,373.0 208.5,381.9 212.5,382.9 216.5,382.6 220.5,388.0 224.5,388.1 228.5,398.7 232.5,405.0 236.5,408.6 240.5,411.3 244.5,417.9 248.5,407.9 252.5,396.3 256.5,370.3 260.5,356.6 264.5,342.9 268.5,326.3 272.5,305.7 276.5,296.7 280.5,290.1 284.5,292.3 288.5,295.6 292.5,300.4 296.5,303.9 300.5,307.7 304.5,308.3 308.5,308.6 312.5,305.3 316.5,298.6 320.5,288.4 324.5,279.0 328.5,268.6 332.5,261.3 336.5,256.3 340.5,245.7 344.5,235.7 348.5,224.4 352.5,221.3 356.5,218.3 360.5,213.1 364.5,206.7 368.5,210.3 372.5,217.7 376.5,227.3 380.5,233.1 384.5,239.4 388.5,244.4 392.5,250.4 396.5,251.1 400.5,254.9 404.5,256.3 408.5,258.0 412.5,258.7 416.5,253.3 420.5,247.7 424.5,235.0 428.5,222.6 432.5,212.6 436.5,198.3 440.5,188.0 444.5,189.4 448.5,190.1 452.5,200.7 456.5,206.6 460.5,215.0 464.5,229.1 468.5,249.6 472.5,263.7 476.5,275.1 480.5,285.4 484.5,298.0 488.5,307.0 492.5,312.1 496.5,307.3 500.5,302.1 504.5,301.0 508.5,294.4 512.5,287.3 516.5,283.3 520.5,276.7 524.5,270.6 528.5,265.6 532.5,260.9 536.5,260.6 540.5,255.3 544.5,248.4 548.5,245.0 552.5,241.9 556.5,237.3 560.5,226.7 564.5,213.0 568.5,197.1 572.5,183.0 576.5,167.4 580.5,145.6 584.5,125.3 588.5,110.1 592.5,99.9 596.5,94.7 600.5,88.1 604.5,83.6 608.5,87.0 612.5,88.0 616.5,90.7 620.5,93.9 624.5,96.3 628.5,96.1 632.5,94.6 636.5,97.0 640.5,105.6 644.5,114.7 648.5,128.4 652.5,139.1 656.5,153.4 660.5,166.1 664.5,171.6 668.5,173.7 672.5,175.9 676.5,168.9 680.5,168.6 684.5,175.0 688.5,185.7 692.5,196.9 696.5,205.1 700.5,207.0 704.5,210.3 708.5,212.7 712.5,215.6 716.5,218.0 720.5,229.7 724.5,244.0 728.5,260.3 732.5,281.3 736.5,306.3 740.5,319.3 744.5,331.9 748.5,332.0 752.5,329.0 756.5,329.3 760.5,319.7 764.5,304.7 768.5,294.1 772.5,279.9 776.5,279.4 780.5,296.6 784.5,317.3 788.5,346.4 792.5,379.4 796.5,408.7 800.5,437.4 804.5,458.3 808.5,465.1 812.5,461.6 816.5,447.0 820.5,430.7 824.5,417.4 828.5,408.6 832.5,388.7 836.5,369.3 840.5,351.7 844.5,344.0 848.5,340.6 852.5,334.4 856.5,335.0 860.5,344.4 864.5,352.9 868.5,360.1 872.5,368.4 876.5,375.1 880.5,385.1 884.5,386.7 888.5,388.7 892.5,387.4 896.5,391.7 900.5,386.6 904.5,372.6 908.5,359.1 912.5,348.3 916.5,339.3 920.5,328.3 924.5,319.3 928.5,330.0 932.5,344.0 936.5,372.3 940.5,392.0 944.5,410.6 948.5,435.7 952.5,460.1 956.5,473.6 960.5,490.3 964.5,483.3 968.5,486.3 972.5,484.3 976.5,479.0 980.5,470.1 984.5,457.9 988.5,447.0 992.5,439.6 996.5,426.9 1000.5,429.6 1004.5,436.0 1008.5,436.3 1012.5,436.6 1016.5,432.1 1020.5,427.4 1024.5,418.7 1028.5,400.0 1032.5,378.3 1036.5,368.7 1040.5,369.1 1044.5,362.7 1048.5,360.4 1052.5,363.4 1056.5,359.7 1060.5,358.6 1064.5,350.0 1068.5,338.1 1072.5,332.9 1076.5,334.1 1080.5,328.4 1084.5,328.3 1088.5,321.4 1092.5,322.7 1096.5,321.1 1100.5,320.9 1104.5,317.4 1108.5,325.9 1112.5,327.6 1116.5,332.3 1120.5,334.9 1124.5,335.6 1128.5,335.7" fill="none" stroke="#0000c8" stroke-width="1" /></g>
<rect x="4" y="147" width="1415" height="3" fill="#ff0000"/>
<rect x="4" y="242" width="1415" height="3" fill="#ff0000"/>
<rect x="4" y="302" width="1415" height="3" fill="#00ff00"/>
<rect x="4" y="423" width="1415" height="3" fill="#0000ff"/>
<rect x="4" y="510" width="1415" height="3" fill="#0000ff"/>
<polygon points="7,28 14.5,28 10.75,32.5" fill="#000"/>
<text x="19" y="33" font-size="10" fill="#000" textLength="67" lengthAdjust="spacingAndGlyphs"  stroke="#000" stroke-width="0.15">USDCHF-,Daily</text>
<text x="93" y="33" font-size="10" fill="#000" textLength="32" lengthAdjust="spacingAndGlyphs"  stroke="#000" stroke-width="0.15">0.99110</text>
<text x="129" y="33" font-size="10" fill="#000" textLength="32" lengthAdjust="spacingAndGlyphs"  stroke="#000" stroke-width="0.15">0.99135</text>
<text x="165" y="33" font-size="10" fill="#000" textLength="32" lengthAdjust="spacingAndGlyphs"  stroke="#000" stroke-width="0.15">0.99076</text>
<text x="201" y="33" font-size="10" fill="#000" textLength="32" lengthAdjust="spacingAndGlyphs"  stroke="#000" stroke-width="0.15">0.99102</text>
<rect x="1420" y="29" width="2" height="1" fill="#000"/>
<text x="1425.5" y="33" font-size="10" fill="#000" textLength="32" lengthAdjust="spacingAndGlyphs"  stroke="#000" stroke-width="0.15">1.02580</text>
<rect x="1420" y="62" width="2" height="1" fill="#000"/>
<text x="1425.5" y="66" font-size="10" fill="#000" textLength="32" lengthAdjust="spacingAndGlyphs"  stroke="#000" stroke-width="0.15">1.02200</text>
<rect x="1420" y="95" width="2" height="1" fill="#000"/>
<text x="1425.5" y="99" font-size="10" fill="#000" textLength="32" lengthAdjust="spacingAndGlyphs"  stroke="#000" stroke-width="0.15">1.01820</text>
<rect x="1420" y="128" width="2" height="1" fill="#000"/>
<text x="1425.5" y="132" font-size="10" fill="#000" textLength="32" lengthAdjust="spacingAndGlyphs"  stroke="#000" stroke-width="0.15">1.01440</text>
<rect x="1420" y="161" width="2" height="1" fill="#000"/>
<text x="1425.5" y="165" font-size="10" fill="#000" textLength="32" lengthAdjust="spacingAndGlyphs"  stroke="#000" stroke-width="0.15">1.01050</text>
<rect x="1420" y="194" width="2" height="1" fill="#000"/>
<text x="1425.5" y="198" font-size="10" fill="#000" textLength="32" lengthAdjust="spacingAndGlyphs"  stroke="#000" stroke-width="0.15">1.00670</text>
<rect x="1420" y="227" width="2" height="1" fill="#000"/>
<text x="1425.5" y="231" font-size="10" fill="#000" textLength="32" lengthAdjust="spacingAndGlyphs"  stroke="#000" stroke-width="0.15">1.00290</text>
<rect x="1420" y="260" width="2" height="1" fill="#000"/>
<text x="1425.5" y="264" font-size="10" fill="#000" textLength="32" lengthAdjust="spacingAndGlyphs"  stroke="#000" stroke-width="0.15">0.99910</text>
<rect x="1420" y="293" width="2" height="1" fill="#000"/>
<text x="1425.5" y="297" font-size="10" fill="#000" textLength="32" lengthAdjust="spacingAndGlyphs"  stroke="#000" stroke-width="0.15">0.99530</text>
<rect x="1420" y="326" width="2" height="1" fill="#000"/>
<text x="1425.5" y="330" font-size="10" fill="#000" textLength="32" lengthAdjust="spacingAndGlyphs"  stroke="#000" stroke-width="0.15">0.99140</text>
<rect x="1420" y="359" width="2" height="1" fill="#000"/>
<text x="1425.5" y="363" font-size="10" fill="#000" textLength="32" lengthAdjust="spacingAndGlyphs"  stroke="#000" stroke-width="0.15">0.98760</text>
<rect x="1420" y="392" width="2" height="1" fill="#000"/>
<text x="1425.5" y="396" font-size="10" fill="#000" textLength="32" lengthAdjust="spacingAndGlyphs"  stroke="#000" stroke-width="0.15">0.98380</text>
<rect x="1420" y="425" width="2" height="1" fill="#000"/>
<text x="1425.5" y="429" font-size="10" fill="#000" textLength="32" lengthAdjust="spacingAndGlyphs"  stroke="#000" stroke-width="0.15">0.98000</text>
<rect x="1420" y="458" width="2" height="1" fill="#000"/>
<text x="1425.5" y="462" font-size="10" fill="#000" textLength="32" lengthAdjust="spacingAndGlyphs"  stroke="#000" stroke-width="0.15">0.97610</text>
<rect x="1420" y="491" width="2" height="1" fill="#000"/>
<text x="1425.5" y="495" font-size="10" fill="#000" textLength="32" lengthAdjust="spacingAndGlyphs"  stroke="#000" stroke-width="0.15">0.97230</text>
<rect x="1420" y="524" width="2" height="1" fill="#000"/>
<text x="1425.5" y="528" font-size="10" fill="#000" textLength="32" lengthAdjust="spacingAndGlyphs"  stroke="#000" stroke-width="0.15">0.96850</text>
<rect x="1420" y="557" width="2" height="1" fill="#000"/>
<text x="1425.5" y="561" font-size="10" fill="#000" textLength="32" lengthAdjust="spacingAndGlyphs"  stroke="#000" stroke-width="0.15">0.96470</text>
<rect x="1421" y="142" width="40" height="11" fill="#ff0000"/>
<text x="1425.5" y="151" font-size="10" fill="#fff" textLength="32" lengthAdjust="spacingAndGlyphs"  stroke="#fff" stroke-width="0.15">1.01205</text>
<rect x="1421" y="237" width="40" height="11" fill="#ff0000"/>
<text x="1425.5" y="246" font-size="10" fill="#fff" textLength="32" lengthAdjust="spacingAndGlyphs"  stroke="#fff" stroke-width="0.15">1.00106</text>
<rect x="1421" y="297" width="40" height="11" fill="#00ff00"/>
<text x="1425.5" y="306" font-size="10" fill="#fff" textLength="32" lengthAdjust="spacingAndGlyphs"  stroke="#fff" stroke-width="0.15">0.99406</text>
<rect x="1421" y="325" width="40" height="11" fill="#000000"/>
<text x="1425.5" y="334" font-size="10" fill="#fff" textLength="32" lengthAdjust="spacingAndGlyphs"  stroke="#fff" stroke-width="0.15">0.99102</text>
<rect x="1421" y="418" width="40" height="11" fill="#0000ff"/>
<text x="1425.5" y="427" font-size="10" fill="#fff" textLength="32" lengthAdjust="spacingAndGlyphs"  stroke="#fff" stroke-width="0.15">0.98004</text>
<rect x="1421" y="505" width="40" height="11" fill="#0000ff"/>
<text x="1425.5" y="514" font-size="10" fill="#fff" textLength="32" lengthAdjust="spacingAndGlyphs"  stroke="#fff" stroke-width="0.15">0.97001</text>
<rect x="4" y="571" width="1" height="39" fill="#c0c0c0"/>
<rect x="8" y="574" width="1" height="36" fill="#c0c0c0"/>
<rect x="12" y="576" width="1" height="34" fill="#c0c0c0"/>
<rect x="16" y="576" width="1" height="34" fill="#c0c0c0"/>
<rect x="20" y="576" width="1" height="34" fill="#c0c0c0"/>
<rect x="24" y="576" width="1" height="34" fill="#c0c0c0"/>
<rect x="28" y="574" width="1" height="36" fill="#c0c0c0"/>
<rect x="32" y="576" width="1" height="34" fill="#c0c0c0"/>
<rect x="36" y="578" width="1" height="32" fill="#c0c0c0"/>
<rect x="40" y="579" width="1" height="31" fill="#c0c0c0"/>
<rect x="44" y="584" width="1" height="26" fill="#c0c0c0"/>
<rect x="48" y="589" width="1" height="21" fill="#c0c0c0"/>
<rect x="52" y="596" width="1" height="14" fill="#c0c0c0"/>
<rect x="56" y="601" width="1" height="9" fill="#c0c0c0"/>
<rect x="60" y="605" width="1" height="5" fill="#c0c0c0"/>
<rect x="64" y="609" width="1" height="1" fill="#c0c0c0"/>
<rect x="68" y="609" width="1" height="2" fill="#c0c0c0"/>
<rect x="72" y="609" width="1" height="2" fill="#c0c0c0"/>
<rect x="76" y="609" width="1" height="2" fill="#c0c0c0"/>
<rect x="80" y="609" width="1" height="2" fill="#c0c0c0"/>
<rect x="84" y="609" width="1" height="5" fill="#c0c0c0"/>
<rect x="88" y="609" width="1" height="6" fill="#c0c0c0"/>
<rect x="92" y="609" width="1" height="4" fill="#c0c0c0"/>
<rect x="96" y="609" width="1" height="3" fill="#c0c0c0"/>
<rect x="100" y="609" width="1" height="3" fill="#c0c0c0"/>
<rect x="104" y="609" width="1" height="3" fill="#c0c0c0"/>
<rect x="108" y="609" width="1" height="4" fill="#c0c0c0"/>
<rect x="112" y="609" width="1" height="6" fill="#c0c0c0"/>
<rect x="116" y="609" width="1" height="10" fill="#c0c0c0"/>
<rect x="120" y="609" width="1" height="13" fill="#c0c0c0"/>
<rect x="124" y="609" width="1" height="15" fill="#c0c0c0"/>
<rect x="128" y="609" width="1" height="14" fill="#c0c0c0"/>
<rect x="132" y="609" width="1" height="14" fill="#c0c0c0"/>
<rect x="136" y="609" width="1" height="13" fill="#c0c0c0"/>
<rect x="140" y="609" width="1" height="10" fill="#c0c0c0"/>
<rect x="144" y="609" width="1" height="7" fill="#c0c0c0"/>
<rect x="148" y="609" width="1" height="8" fill="#c0c0c0"/>
<rect x="152" y="609" width="1" height="9" fill="#c0c0c0"/>
<rect x="156" y="609" width="1" height="8" fill="#c0c0c0"/>
<rect x="160" y="609" width="1" height="12" fill="#c0c0c0"/>
<rect x="164" y="609" width="1" height="10" fill="#c0c0c0"/>
<rect x="168" y="609" width="1" height="9" fill="#c0c0c0"/>
<rect x="172" y="609" width="1" height="13" fill="#c0c0c0"/>
<rect x="176" y="609" width="1" height="15" fill="#c0c0c0"/>
<rect x="180" y="609" width="1" height="12" fill="#c0c0c0"/>
<rect x="184" y="609" width="1" height="14" fill="#c0c0c0"/>
<rect x="188" y="609" width="1" height="17" fill="#c0c0c0"/>
<rect x="192" y="609" width="1" height="19" fill="#c0c0c0"/>
<rect x="196" y="609" width="1" height="23" fill="#c0c0c0"/>
<rect x="200" y="609" width="1" height="25" fill="#c0c0c0"/>
<rect x="204" y="609" width="1" height="21" fill="#c0c0c0"/>
<rect x="208" y="609" width="1" height="20" fill="#c0c0c0"/>
<rect x="212" y="609" width="1" height="19" fill="#c0c0c0"/>
<rect x="216" y="609" width="1" height="19" fill="#c0c0c0"/>
<rect x="220" y="609" width="1" height="22" fill="#c0c0c0"/>
<rect x="224" y="609" width="1" height="23" fill="#c0c0c0"/>
<rect x="228" y="609" width="1" height="28" fill="#c0c0c0"/>
<rect x="232" y="609" width="1" height="26" fill="#c0c0c0"/>
<rect x="236" y="609" width="1" height="23" fill="#c0c0c0"/>
<rect x="240" y="609" width="1" height="21" fill="#c0c0c0"/>
<rect x="244" y="609" width="1" height="22" fill="#c0c0c0"/>
<rect x="248" y="609" width="1" height="18" fill="#c0c0c0"/>
<rect x="252" y="609" width="1" height="13" fill="#c0c0c0"/>
<rect x="256" y="609" width="1" height="6" fill="#c0c0c0"/>
<rect x="260" y="608" width="1" height="2" fill="#c0c0c0"/>
<rect x="264" y="604" width="1" height="6" fill="#c0c0c0"/>
<rect x="268" y="599" width="1" height="11" fill="#c0c0c0"/>
<rect x="272" y="596" width="1" height="14" fill="#c0c0c0"/>
<rect x="276" y="595" width="1" height="15" fill="#c0c0c0"/>
<rect x="280" y="594" width="1" height="16" fill="#c0c0c0"/>
<rect x="284" y="595" width="1" height="15" fill="#c0c0c0"/>
<rect x="288" y="596" width="1" height="14" fill="#c0c0c0"/>
<rect x="292" y="597" width="1" height="13" fill="#c0c0c0"/>
<rect x="296" y="597" width="1" height="13" fill="#c0c0c0"/>
<rect x="300" y="597" width="1" height="13" fill="#c0c0c0"/>
<rect x="304" y="597" width="1" height="13" fill="#c0c0c0"/>
<rect x="308" y="596" width="1" height="14" fill="#c0c0c0"/>
<rect x="312" y="596" width="1" height="14" fill="#c0c0c0"/>
<rect x="316" y="595" width="1" height="15" fill="#c0c0c0"/>
<rect x="320" y="592" width="1" height="18" fill="#c0c0c0"/>
<rect x="324" y="590" width="1" height="20" fill="#c0c0c0"/>
<rect x="328" y="587" width="1" height="23" fill="#c0c0c0"/>
<rect x="332" y="587" width="1" height="23" fill="#c0c0c0"/>
<rect x="336" y="588" width="1" height="22" fill="#c0c0c0"/>
<rect x="340" y="586" width="1" height="24" fill="#c0c0c0"/>
<rect x="344" y="583" width="1" height="27" fill="#c0c0c0"/>
<rect x="348" y="580" width="1" height="30" fill="#c0c0c0"/>
<rect x="352" y="580" width="1" height="30" fill="#c0c0c0"/>
<rect x="356" y="581" width="1" height="29" fill="#c0c0c0"/>
<rect x="360" y="582" width="1" height="28" fill="#c0c0c0"/>
<rect x="364" y="583" width="1" height="27" fill="#c0c0c0"/>
<rect x="368" y="586" width="1" height="24" fill="#c0c0c0"/>
<rect x="372" y="589" width="1" height="21" fill="#c0c0c0"/>
<rect x="376" y="591" width="1" height="19" fill="#c0c0c0"/>
<rect x="380" y="593" width="1" height="17" fill="#c0c0c0"/>
<rect x="384" y="596" width="1" height="14" fill="#c0c0c0"/>
<rect x="388" y="597" width="1" height="13" fill="#c0c0c0"/>
<rect x="392" y="599" width="1" height="11" fill="#c0c0c0"/>
<rect x="396" y="600" width="1" height="10" fill="#c0c0c0"/>
<rect x="400" y="603" width="1" height="7" fill="#c0c0c0"/>
<rect x="404" y="604" width="1" height="6" fill="#c0c0c0"/>
<rect x="408" y="605" width="1" height="5" fill="#c0c0c0"/>
<rect x="412" y="606" width="1" height="4" fill="#c0c0c0"/>
<rect x="416" y="603" width="1" height="7" fill="#c0c0c0"/>
<rect x="420" y="602" width="1" height="8" fill="#c0c0c0"/>
<rect x="424" y="597" width="1" height="13" fill="#c0c0c0"/>
<rect x="428" y="595" width="1" height="15" fill="#c0c0c0"/>
<rect x="432" y="593" width="1" height="17" fill="#c0c0c0"/>
<rect x="436" y="591" width="1" height="19" fill="#c0c0c0"/>
<rect x="440" y="591" width="1" height="19" fill="#c0c0c0"/>
<rect x="444" y="593" width="1" height="17" fill="#c0c0c0"/>
<rect x="448" y="595" width="1" height="15" fill="#c0c0c0"/>
<rect x="452" y="598" width="1" height="12" fill="#c0c0c0"/>
<rect x="456" y="600" width="1" height="10" fill="#c0c0c0"/>
<rect x="460" y="602" width="1" height="8" fill="#c0c0c0"/>
<rect x="464" y="605" width="1" height="5" fill="#c0c0c0"/>
<rect x="468" y="609" width="1" height="5" fill="#c0c0c0"/>
<rect x="472" y="609" width="1" height="10" fill="#c0c0c0"/>
<rect x="476" y="609" width="1" height="12" fill="#c0c0c0"/>
<rect x="480" y="609" width="1" height="14" fill="#c0c0c0"/>
<rect x="484" y="609" width="1" height="16" fill="#c0c0c0"/>
<rect x="488" y="609" width="1" height="17" fill="#c0c0c0"/>
<rect x="492" y="609" width="1" height="17" fill="#c0c0c0"/>
<rect x="496" y="609" width="1" height="17" fill="#c0c0c0"/>
<rect x="500" y="609" width="1" height="16" fill="#c0c0c0"/>
<rect x="504" y="609" width="1" height="15" fill="#c0c0c0"/>
<rect x="508" y="609" width="1" height="12" fill="#c0c0c0"/>
<rect x="512" y="609" width="1" height="10" fill="#c0c0c0"/>
<rect x="516" y="609" width="1" height="9" fill="#c0c0c0"/>
<rect x="520" y="609" width="1" height="7" fill="#c0c0c0"/>
<rect x="524" y="609" width="1" height="5" fill="#c0c0c0"/>
<rect x="528" y="609" width="1" height="3" fill="#c0c0c0"/>
<rect x="532" y="609" width="1" height="2" fill="#c0c0c0"/>
<rect x="536" y="609" width="1" height="2" fill="#c0c0c0"/>
<rect x="540" y="607" width="1" height="3" fill="#c0c0c0"/>
<rect x="544" y="605" width="1" height="5" fill="#c0c0c0"/>
<rect x="548" y="604" width="1" height="6" fill="#c0c0c0"/>
<rect x="552" y="603" width="1" height="7" fill="#c0c0c0"/>
<rect x="556" y="601" width="1" height="9" fill="#c0c0c0"/>
<rect x="560" y="598" width="1" height="12" fill="#c0c0c0"/>
<rect x="564" y="594" width="1" height="16" fill="#c0c0c0"/>
<rect x="568" y="588" width="1" height="22" fill="#c0c0c0"/>
<rect x="572" y="584" width="1" height="26" fill="#c0c0c0"/>
<rect x="576" y="581" width="1" height="29" fill="#c0c0c0"/>
<rect x="580" y="576" width="1" height="34" fill="#c0c0c0"/>
<rect x="584" y="572" width="1" height="38" fill="#c0c0c0"/>
<rect x="588" y="570" width="1" height="40" fill="#c0c0c0"/>
<rect x="592" y="569" width="1" height="41" fill="#c0c0c0"/>
<rect x="596" y="569" width="1" height="41" fill="#c0c0c0"/>
<rect x="600" y="569" width="1" height="41" fill="#c0c0c0"/>
<rect x="604" y="570" width="1" height="40" fill="#c0c0c0"/>
<rect x="608" y="572" width="1" height="38" fill="#c0c0c0"/>
<rect x="612" y="573" width="1" height="37" fill="#c0c0c0"/>
<rect x="616" y="575" width="1" height="35" fill="#c0c0c0"/>
<rect x="620" y="577" width="1" height="33" fill="#c0c0c0"/>
<rect x="624" y="579" width="1" height="31" fill="#c0c0c0"/>
<rect x="628" y="580" width="1" height="30" fill="#c0c0c0"/>
<rect x="632" y="580" width="1" height="30" fill="#c0c0c0"/>
<rect x="636" y="584" width="1" height="26" fill="#c0c0c0"/>
<rect x="640" y="588" width="1" height="22" fill="#c0c0c0"/>
<rect x="644" y="594" width="1" height="16" fill="#c0c0c0"/>
<rect x="648" y="601" width="1" height="9" fill="#c0c0c0"/>
<rect x="652" y="604" width="1" height="6" fill="#c0c0c0"/>
<rect x="656" y="608" width="1" height="2" fill="#c0c0c0"/>
<rect x="660" y="609" width="1" height="1" fill="#c0c0c0"/>
<rect x="664" y="609" width="1" height="2" fill="#c0c0c0"/>
<rect x="668" y="609" width="1" height="2" fill="#c0c0c0"/>
<rect x="672" y="609" width="1" height="4" fill="#c0c0c0"/>
<rect x="676" y="609" width="1" height="4" fill="#c0c0c0"/>
<rect x="680" y="609" width="1" height="5" fill="#c0c0c0"/>
<rect x="684" y="609" width="1" height="9" fill="#c0c0c0"/>
<rect x="688" y="609" width="1" height="13" fill="#c0c0c0"/>
<rect x="692" y="609" width="1" height="16" fill="#c0c0c0"/>
<rect x="696" y="609" width="1" height="17" fill="#c0c0c0"/>
<rect x="700" y="609" width="1" height="16" fill="#c0c0c0"/>
<rect x="704" y="609" width="1" height="14" fill="#c0c0c0"/>
<rect x="708" y="609" width="1" height="13" fill="#c0c0c0"/>
<rect x="712" y="609" width="1" height="16" fill="#c0c0c0"/>
<rect x="716" y="609" width="1" height="19" fill="#c0c0c0"/>
<rect x="720" y="609" width="1" height="24" fill="#c0c0c0"/>
<rect x="724" y="609" width="1" height="29" fill="#c0c0c0"/>
<rect x="728" y="609" width="1" height="31" fill="#c0c0c0"/>
<rect x="732" y="609" width="1" height="34" fill="#c0c0c0"/>
<rect x="736" y="609" width="1" height="39" fill="#c0c0c0"/>
<rect x="740" y="609" width="1" height="40" fill="#c0c0c0"/>
<rect x="744" y="609" width="1" height="41" fill="#c0c0c0"/>
<rect x="748" y="609" width="1" height="40" fill="#c0c0c0"/>
<rect x="752" y="609" width="1" height="36" fill="#c0c0c0"/>
<rect x="756" y="609" width="1" height="34" fill="#c0c0c0"/>
<rect x="760" y="609" width="1" height="29" fill="#c0c0c0"/>
<rect x="764" y="609" width="1" height="25" fill="#c0c0c0"/>
<rect x="768" y="609" width="1" height="21" fill="#c0c0c0"/>
<rect x="772" y="609" width="1" height="17" fill="#c0c0c0"/>
<rect x="776" y="609" width="1" height="18" fill="#c0c0c0"/>
<rect x="780" y="609" width="1" height="26" fill="#c0c0c0"/>
<rect x="784" y="609" width="1" height="34" fill="#c0c0c0"/>
<rect x="788" y="609" width="1" height="41" fill="#c0c0c0"/>
<rect x="792" y="609" width="1" height="47" fill="#c0c0c0"/>
<rect x="796" y="609" width="1" height="51" fill="#c0c0c0"/>
<rect x="800" y="609" width="1" height="51" fill="#c0c0c0"/>
<rect x="804" y="609" width="1" height="52" fill="#c0c0c0"/>
<rect x="808" y="609" width="1" height="52" fill="#c0c0c0"/>
<rect x="812" y="609" width="1" height="49" fill="#c0c0c0"/>
<rect x="816" y="609" width="1" height="42" fill="#c0c0c0"/>
<rect x="820" y="609" width="1" height="37" fill="#c0c0c0"/>
<rect x="824" y="609" width="1" height="32" fill="#c0c0c0"/>
<rect x="828" y="609" width="1" height="29" fill="#c0c0c0"/>
<rect x="832" y="609" width="1" height="22" fill="#c0c0c0"/>
<rect x="836" y="609" width="1" height="16" fill="#c0c0c0"/>
<rect x="840" y="609" width="1" height="10" fill="#c0c0c0"/>
<rect x="844" y="609" width="1" height="6" fill="#c0c0c0"/>
<rect x="848" y="609" width="1" height="5" fill="#c0c0c0"/>
<rect x="852" y="609" width="1" height="3" fill="#c0c0c0"/>
<rect x="856" y="609" width="1" height="6" fill="#c0c0c0"/>
<rect x="860" y="609" width="1" height="7" fill="#c0c0c0"/>
<rect x="864" y="609" width="1" height="8" fill="#c0c0c0"/>
<rect x="868" y="609" width="1" height="7" fill="#c0c0c0"/>
<rect x="872" y="609" width="1" height="7" fill="#c0c0c0"/>
<rect x="876" y="609" width="1" height="9" fill="#c0c0c0"/>
<rect x="880" y="609" width="1" height="10" fill="#c0c0c0"/>
<rect x="884" y="609" width="1" height="11" fill="#c0c0c0"/>
<rect x="888" y="609" width="1" height="12" fill="#c0c0c0"/>
<rect x="892" y="609" width="1" height="11" fill="#c0c0c0"/>
<rect x="896" y="609" width="1" height="10" fill="#c0c0c0"/>
<rect x="900" y="609" width="1" height="6" fill="#c0c0c0"/>
<rect x="904" y="609" width="1" height="1" fill="#c0c0c0"/>
<rect x="908" y="605" width="1" height="5" fill="#c0c0c0"/>
<rect x="912" y="603" width="1" height="7" fill="#c0c0c0"/>
<rect x="916" y="603" width="1" height="7" fill="#c0c0c0"/>
<rect x="920" y="600" width="1" height="10" fill="#c0c0c0"/>
<rect x="924" y="600" width="1" height="10" fill="#c0c0c0"/>
<rect x="928" y="605" width="1" height="5" fill="#c0c0c0"/>
<rect x="932" y="609" width="1" height="1" fill="#c0c0c0"/>
<rect x="936" y="609" width="1" height="11" fill="#c0c0c0"/>
<rect x="940" y="609" width="1" height="15" fill="#c0c0c0"/>
<rect x="944" y="609" width="1" height="19" fill="#c0c0c0"/>
<rect x="948" y="609" width="1" height="23" fill="#c0c0c0"/>
<rect x="952" y="609" width="1" height="26" fill="#c0c0c0"/>
<rect x="956" y="609" width="1" height="29" fill="#c0c0c0"/>
<rect x="960" y="609" width="1" height="33" fill="#c0c0c0"/>
<rect x="964" y="609" width="1" height="31" fill="#c0c0c0"/>
<rect x="968" y="609" width="1" height="31" fill="#c0c0c0"/>
<rect x="972" y="609" width="1" height="28" fill="#c0c0c0"/>
<rect x="976" y="609" width="1" height="25" fill="#c0c0c0"/>
<rect x="980" y="609" width="1" height="22" fill="#c0c0c0"/>
<rect x="984" y="609" width="1" height="18" fill="#c0c0c0"/>
<rect x="988" y="609" width="1" height="16" fill="#c0c0c0"/>
<rect x="992" y="609" width="1" height="13" fill="#c0c0c0"/>
<rect x="996" y="609" width="1" height="9" fill="#c0c0c0"/>
<rect x="1000" y="609" width="1" height="11" fill="#c0c0c0"/>
<rect x="1004" y="609" width="1" height="13" fill="#c0c0c0"/>
<rect x="1008" y="609" width="1" height="12" fill="#c0c0c0"/>
<rect x="1012" y="609" width="1" height="9" fill="#c0c0c0"/>
<rect x="1016" y="609" width="1" height="6" fill="#c0c0c0"/>
<rect x="1020" y="609" width="1" height="2" fill="#c0c0c0"/>
<rect x="1024" y="604" width="1" height="6" fill="#c0c0c0"/>
<rect x="1028" y="599" width="1" height="11" fill="#c0c0c0"/>
<rect x="1032" y="596" width="1" height="14" fill="#c0c0c0"/>
<rect x="1036" y="595" width="1" height="15" fill="#c0c0c0"/>
<rect x="1040" y="598" width="1" height="12" fill="#c0c0c0"/>
<rect x="1044" y="597" width="1" height="13" fill="#c0c0c0"/>
<rect x="1048" y="596" width="1" height="14" fill="#c0c0c0"/>
<rect x="1052" y="595" width="1" height="15" fill="#c0c0c0"/>
<rect x="1056" y="592" width="1" height="18" fill="#c0c0c0"/>
<rect x="1060" y="590" width="1" height="20" fill="#c0c0c0"/>
<rect x="1064" y="588" width="1" height="22" fill="#c0c0c0"/>
<rect x="1068" y="588" width="1" height="22" fill="#c0c0c0"/>
<rect x="1072" y="588" width="1" height="22" fill="#c0c0c0"/>
<rect x="1076" y="591" width="1" height="19" fill="#c0c0c0"/>
<rect x="1080" y="590" width="1" height="20" fill="#c0c0c0"/>
<rect x="1084" y="589" width="1" height="21" fill="#c0c0c0"/>
<rect x="1088" y="586" width="1" height="24" fill="#c0c0c0"/>
<rect x="1092" y="587" width="1" height="23" fill="#c0c0c0"/>
<rect x="1096" y="588" width="1" height="22" fill="#c0c0c0"/>
<rect x="1100" y="590" width="1" height="20" fill="#c0c0c0"/>
<rect x="1104" y="592" width="1" height="18" fill="#c0c0c0"/>
<rect x="1108" y="596" width="1" height="14" fill="#c0c0c0"/>
<rect x="1112" y="597" width="1" height="13" fill="#c0c0c0"/>
<rect x="1116" y="596" width="1" height="14" fill="#c0c0c0"/>
<rect x="1120" y="597" width="1" height="13" fill="#c0c0c0"/>
<rect x="1124" y="598" width="1" height="12" fill="#c0c0c0"/>
<rect x="1128" y="598" width="1" height="12" fill="#c0c0c0"/>
<polyline points="4.5,573.3 8.5,572.5 12.5,572.2 16.5,572.3 20.5,572.8 24.5,573.5 28.5,573.9 32.5,574.4 36.5,575.2 40.5,576.0 44.5,577.2 48.5,578.6 52.5,580.9 56.5,583.7 60.5,586.9 64.5,590.7 68.5,594.4 72.5,598.0 76.5,601.6 80.5,604.5 84.5,607.2 88.5,609.2 92.5,610.4 96.5,611.0 100.5,611.3 104.5,611.5 108.5,611.7 112.5,612.1 116.5,613.0 120.5,613.9 124.5,614.9 128.5,616.0 132.5,617.2 136.5,618.3 140.5,619.0 144.5,619.4 148.5,619.6 152.5,619.5 156.5,619.0 160.5,618.6 164.5,618.1 168.5,617.6 172.5,617.5 176.5,618.1 180.5,618.7 184.5,619.4 188.5,620.3 192.5,621.5 196.5,622.7 200.5,624.3 204.5,625.7 208.5,626.5 212.5,627.0 216.5,627.6 220.5,628.5 224.5,629.2 228.5,630.2 232.5,630.5 236.5,630.4 240.5,630.3 244.5,630.5 248.5,630.3 252.5,629.7 256.5,627.9 260.5,625.4 264.5,621.8 268.5,618.0 272.5,614.1 276.5,610.3 280.5,606.3 284.5,602.8 288.5,600.1 292.5,598.2 296.5,596.8 300.5,596.0 304.5,595.8 308.5,595.8 312.5,596.0 316.5,596.0 320.5,595.8 324.5,595.1 328.5,594.1 332.5,593.1 336.5,592.1 340.5,590.9 344.5,589.5 348.5,587.7 352.5,586.1 356.5,584.8 360.5,583.9 364.5,583.4 368.5,583.2 372.5,583.2 376.5,583.8 380.5,584.9 384.5,586.6 388.5,588.5 392.5,590.5 396.5,592.6 400.5,594.8 404.5,596.9 408.5,598.7 412.5,600.3 416.5,601.4 420.5,602.1 424.5,602.0 428.5,601.5 432.5,600.7 436.5,599.3 440.5,597.9 444.5,596.6 448.5,595.4 452.5,594.8 456.5,594.6 460.5,595.2 464.5,596.3 468.5,598.5 472.5,601.5 476.5,604.8 480.5,608.0 484.5,611.2 488.5,614.3 492.5,617.1 496.5,619.7 500.5,621.7 504.5,622.9 508.5,623.2 512.5,623.0 516.5,622.5 520.5,621.4 524.5,620.0 528.5,618.5 532.5,616.9 536.5,615.4 540.5,613.6 544.5,611.9 548.5,610.3 552.5,608.7 556.5,607.1 560.5,605.5 564.5,603.5 568.5,601.0 572.5,598.2 576.5,595.2 580.5,592.0 584.5,588.5 588.5,584.8 592.5,581.3 596.5,578.1 600.5,575.3 604.5,573.3 608.5,571.9 612.5,571.0 616.5,570.8 620.5,571.4 624.5,572.4 628.5,573.6 632.5,574.9 636.5,576.5 640.5,578.6 644.5,581.0 648.5,584.1 652.5,587.4 656.5,590.8 660.5,594.1 664.5,597.5 668.5,600.8 672.5,604.0 676.5,606.6 680.5,608.7 684.5,610.6 688.5,612.5 692.5,614.3 696.5,616.1 700.5,617.7 704.5,618.9 708.5,619.9 712.5,621.2 716.5,622.7 720.5,624.4 724.5,626.1 728.5,627.8 732.5,629.7 736.5,632.3 740.5,635.2 744.5,638.3 748.5,641.0 752.5,643.0 756.5,644.0 760.5,644.1 764.5,643.4 768.5,642.0 772.5,639.6 776.5,637.2 780.5,635.5 784.5,634.9 788.5,635.3 792.5,636.8 796.5,639.2 800.5,642.1 804.5,645.4 808.5,649.2 812.5,652.6 816.5,654.4 820.5,654.7 824.5,653.7 828.5,651.7 832.5,648.5 836.5,644.6 840.5,640.0 844.5,634.9 848.5,630.1 852.5,625.8 856.5,622.4 860.5,619.6 864.5,617.3 868.5,615.7 872.5,614.6 876.5,614.4 880.5,614.9 884.5,615.5 888.5,616.5 892.5,617.1 896.5,617.4 900.5,617.1 904.5,616.5 908.5,615.4 912.5,613.9 916.5,612.2 920.5,610.1 924.5,607.9 928.5,606.3 932.5,605.2 936.5,605.8 940.5,607.4 944.5,609.8 948.5,612.9 952.5,616.4 956.5,620.6 960.5,625.1 964.5,628.9 968.5,632.3 972.5,634.2 976.5,635.3 980.5,635.6 984.5,635.0 988.5,633.9 992.5,632.0 996.5,629.3 1000.5,627.1 1004.5,625.2 1008.5,623.4 1012.5,621.6 1016.5,619.9 1020.5,618.1 1024.5,615.8 1028.5,613.4 1032.5,611.1 1036.5,608.4 1040.5,605.8 1044.5,603.3 1048.5,601.0 1052.5,598.8 1056.5,596.8 1060.5,595.3 1064.5,594.0 1068.5,593.2 1072.5,592.5 1076.5,591.7 1080.5,590.9 1084.5,590.1 1088.5,589.2 1092.5,588.7 1096.5,588.5 1100.5,588.7 1104.5,589.2 1108.5,590.1 1112.5,590.7 1116.5,591.4 1120.5,592.3 1124.5,593.5 1128.5,594.8" fill="none" stroke="#ff0000" stroke-width="1" stroke-dasharray="3,3"/>
<text x="8" y="576" font-size="10" fill="#000" textLength="148" lengthAdjust="spacingAndGlyphs"  stroke="#000" stroke-width="0.15">MACD(12,26,9) 0.001415 0.001935</text>
<rect x="1420" y="564" width="2" height="1" fill="#000"/>
<text x="1423.5" y="573" font-size="10" fill="#000" textLength="32" lengthAdjust="spacingAndGlyphs"  stroke="#000" stroke-width="0.15">0.00613</text>
<rect x="1420" y="609" width="2" height="1" fill="#000"/>
<text x="1423.5" y="613" font-size="10" fill="#000" textLength="18" lengthAdjust="spacingAndGlyphs"  stroke="#000" stroke-width="0.15">0.00</text>
<rect x="1420" y="664" width="2" height="1" fill="#000"/>
<text x="1423.5" y="662" font-size="10" fill="#000" textLength="38" lengthAdjust="spacingAndGlyphs"  stroke="#000" stroke-width="0.15">-0.007612</text>
<line x1="5" y1="707.5" x2="1419" y2="707.5" stroke="#c0c0c0" stroke-width="1" stroke-dasharray="3,3"/>
<line x1="5" y1="758.5" x2="1419" y2="758.5" stroke="#c0c0c0" stroke-width="1" stroke-dasharray="3,3"/>
<polyline points="4.5,715.7 8.5,722.8 12.5,721.9 16.5,715.8 20.5,716.6 24.5,715.8 28.5,709.7 32.5,721.1 36.5,720.7 40.5,719.2 44.5,734.6 48.5,735.2 52.5,745.0 56.5,742.3 60.5,742.7 64.5,741.9 68.5,735.7 72.5,735.7 76.5,733.8 80.5,733.3 84.5,744.2 88.5,737.4 92.5,729.8 96.5,732.5 100.5,733.8 104.5,734.8 108.5,735.4 112.5,743.7 116.5,751.0 120.5,749.1 124.5,749.3 128.5,739.2 132.5,740.4 136.5,737.6 140.5,727.5 144.5,728.4 148.5,739.6 152.5,740.1 156.5,735.9 160.5,749.3 164.5,732.5 168.5,734.6 172.5,746.1 176.5,745.4 180.5,731.5 184.5,741.4 188.5,743.2 192.5,745.5 196.5,748.6 200.5,746.4 204.5,734.6 208.5,737.3 212.5,738.7 216.5,739.4 220.5,747.9 224.5,744.9 228.5,753.0 232.5,736.5 236.5,736.2 240.5,736.6 244.5,741.2 248.5,731.5 252.5,727.9 256.5,722.8 260.5,722.1 264.5,721.8 268.5,719.4 272.5,720.1 276.5,724.9 280.5,723.5 284.5,728.6 288.5,729.1 292.5,731.1 296.5,725.6 300.5,727.1 304.5,726.8 308.5,724.6 312.5,724.1 316.5,719.2 320.5,716.1 324.5,712.0 328.5,711.8 332.5,719.3 336.5,721.4 340.5,712.8 344.5,709.7 348.5,705.8 352.5,717.5 356.5,717.5 360.5,719.5 364.5,718.8 368.5,728.2 372.5,730.9 376.5,728.4 380.5,731.2 384.5,732.2 388.5,731.2 392.5,732.7 396.5,729.8 400.5,740.1 404.5,731.5 408.5,735.0 412.5,733.6 416.5,720.4 420.5,721.5 424.5,709.5 428.5,719.9 432.5,718.3 436.5,714.7 440.5,722.2 444.5,731.8 448.5,731.3 452.5,734.1 456.5,733.8 460.5,736.6 464.5,742.0 468.5,755.0 472.5,752.5 476.5,746.1 480.5,746.7 484.5,749.7 488.5,744.9 492.5,743.0 496.5,742.3 500.5,738.9 504.5,740.9 508.5,729.9 512.5,733.2 516.5,735.3 520.5,728.2 524.5,728.5 528.5,727.9 532.5,731.1 536.5,729.8 540.5,722.2 544.5,721.0 548.5,721.0 552.5,722.4 556.5,718.4 560.5,709.5 564.5,704.1 568.5,697.9 572.5,701.6 576.5,700.0 580.5,694.6 584.5,694.5 588.5,695.9 592.5,700.0 596.5,699.5 600.5,699.2 604.5,701.5 608.5,709.9 612.5,705.7 616.5,713.3 620.5,718.5 624.5,716.2 628.5,711.0 632.5,709.5 636.5,727.9 640.5,736.0 644.5,741.3 648.5,751.0 652.5,741.8 656.5,742.9 660.5,737.7 664.5,735.4 668.5,735.9 672.5,741.1 676.5,734.5 680.5,739.4 684.5,750.7 688.5,753.0 692.5,751.3 696.5,745.2 700.5,737.4 704.5,734.4 708.5,737.5 712.5,749.2 716.5,751.0 720.5,759.9 724.5,759.9 728.5,755.9 732.5,759.1 736.5,764.2 740.5,755.2 744.5,756.2 748.5,748.3 752.5,742.5 756.5,744.6 760.5,733.3 764.5,733.8 768.5,734.2 772.5,729.7 776.5,744.1 780.5,757.3 784.5,760.8 788.5,761.9 792.5,764.5 796.5,758.6 800.5,753.2 804.5,755.0 808.5,755.4 812.5,746.5 816.5,733.9 820.5,736.7 824.5,736.1 828.5,737.5 832.5,726.4 836.5,727.6 840.5,723.7 844.5,724.5 848.5,734.0 852.5,730.0 856.5,739.5 860.5,739.5 864.5,739.3 868.5,732.7 872.5,734.8 876.5,741.4 880.5,741.5 884.5,740.6 888.5,741.2 892.5,735.1 896.5,736.7 900.5,724.6 904.5,719.9 908.5,721.2 912.5,724.9 916.5,729.0 920.5,721.4 924.5,726.7 928.5,742.8 932.5,742.1 936.5,755.8 940.5,746.7 944.5,747.6 948.5,748.6 952.5,750.7 956.5,751.5 960.5,754.0 964.5,740.7 968.5,744.2 972.5,738.9 976.5,736.1 980.5,734.3 984.5,730.9 988.5,736.6 992.5,729.7 996.5,727.4 1000.5,741.3 1004.5,742.8 1008.5,733.5 1012.5,730.6 1016.5,730.1 1020.5,724.0 1024.5,718.4 1028.5,720.6 1032.5,719.2 1036.5,726.1 1040.5,735.3 1044.5,727.3 1048.5,725.8 1052.5,725.2 1056.5,719.9 1060.5,721.6 1064.5,718.8 1068.5,725.1 1072.5,724.3 1076.5,731.7 1080.5,722.9 1084.5,723.6 1088.5,717.8 1092.5,725.7 1096.5,727.4 1100.5,728.3 1104.5,731.2 1108.5,737.0 1112.5,728.6 1116.5,725.5 1120.5,730.3 1124.5,729.5 1128.5,729.5" fill="none" stroke="#1e90ff" stroke-width="1" />
<text x="8" y="680" font-size="10" fill="#000" textLength="67" lengthAdjust="spacingAndGlyphs"  stroke="#000" stroke-width="0.15">RSI(14) 52.6702</text>
<rect x="1420" y="669" width="2" height="1" fill="#000"/>
<text x="1422.5" y="678" font-size="10" fill="#000" textLength="15" lengthAdjust="spacingAndGlyphs"  stroke="#000" stroke-width="0.15">100</text>
<text x="1422.5" y="711" font-size="10" fill="#000" textLength="10" lengthAdjust="spacingAndGlyphs"  stroke="#000" stroke-width="0.15">70</text>
<text x="1422.5" y="762" font-size="10" fill="#000" textLength="10" lengthAdjust="spacingAndGlyphs"  stroke="#000" stroke-width="0.15">30</text>
<rect x="1420" y="796" width="2" height="1" fill="#000"/>
<text x="1422.5" y="794" font-size="10" fill="#000" textLength="5" lengthAdjust="spacingAndGlyphs"  stroke="#000" stroke-width="0.15">0</text>
<rect x="3.5" y="21.5" width="1416" height="539" fill="none" stroke="#000" stroke-width="1"/>
<rect x="3.5" y="562.5" width="1416" height="103" fill="none" stroke="#000" stroke-width="1"/>
<rect x="3.5" y="667.5" width="1416" height="130" fill="none" stroke="#000" stroke-width="1"/>
<rect x="4" y="798" width="1" height="3" fill="#000"/>
<text x="3" y="810" font-size="10" fill="#000" textLength="48.7" lengthAdjust="spacingAndGlyphs"  stroke="#000" stroke-width="0.15">5 Nov 2018</text>
<rect x="68" y="798" width="1" height="3" fill="#000"/>
<text x="67" y="810" font-size="10" fill="#000" textLength="53.4" lengthAdjust="spacingAndGlyphs"  stroke="#000" stroke-width="0.15">23 Nov 2018</text>
<rect x="132" y="798" width="1" height="3" fill="#000"/>
<text x="131" y="810" font-size="10" fill="#000" textLength="51" lengthAdjust="spacingAndGlyphs"  stroke="#000" stroke-width="0.15">12 Dec 2018</text>
<rect x="196" y="798" width="1" height="3" fill="#000"/>
<text x="195" y="810" font-size="10" fill="#000" textLength="51" lengthAdjust="spacingAndGlyphs"  stroke="#000" stroke-width="0.15">31 Dec 2018</text>
<rect x="260" y="798" width="1" height="3" fill="#000"/>
<text x="259" y="810" font-size="10" fill="#000" textLength="49" lengthAdjust="spacingAndGlyphs"  stroke="#000" stroke-width="0.15">18 Jan 2019</text>
<rect x="324" y="798" width="1" height="3" fill="#000"/>
<text x="323" y="810" font-size="10" fill="#000" textLength="46.6" lengthAdjust="spacingAndGlyphs"  stroke="#000" stroke-width="0.15">6 Feb 2019</text>
<rect x="388" y="798" width="1" height="3" fill="#000"/>
<text x="387" y="810" font-size="10" fill="#000" textLength="52" lengthAdjust="spacingAndGlyphs"  stroke="#000" stroke-width="0.15">25 Feb 2019</text>
<rect x="452" y="798" width="1" height="3" fill="#000"/>
<text x="451" y="810" font-size="10" fill="#000" textLength="51" lengthAdjust="spacingAndGlyphs"  stroke="#000" stroke-width="0.15">15 Mar 2019</text>
<rect x="516" y="798" width="1" height="3" fill="#000"/>
<text x="515" y="810" font-size="10" fill="#000" textLength="46" lengthAdjust="spacingAndGlyphs"  stroke="#000" stroke-width="0.15">3 Apr 2019</text>
<rect x="580" y="798" width="1" height="3" fill="#000"/>
<text x="579" y="810" font-size="10" fill="#000" textLength="50.4" lengthAdjust="spacingAndGlyphs"  stroke="#000" stroke-width="0.15">23 Apr 2019</text>
<rect x="644" y="798" width="1" height="3" fill="#000"/>
<text x="643" y="810" font-size="10" fill="#000" textLength="54" lengthAdjust="spacingAndGlyphs"  stroke="#000" stroke-width="0.15">12 May 2019</text>
<rect x="708" y="798" width="1" height="3" fill="#000"/>
<text x="707" y="810" font-size="10" fill="#000" textLength="54.8" lengthAdjust="spacingAndGlyphs"  stroke="#000" stroke-width="0.15">30 May 2019</text>
<rect x="772" y="798" width="1" height="3" fill="#000"/>
<text x="771" y="810" font-size="10" fill="#000" textLength="50" lengthAdjust="spacingAndGlyphs"  stroke="#000" stroke-width="0.15">18 Jun 2019</text>
<rect x="836" y="798" width="1" height="3" fill="#000"/>
<text x="835" y="810" font-size="10" fill="#000" textLength="42" lengthAdjust="spacingAndGlyphs"  stroke="#000" stroke-width="0.15">7 Jul 2019</text>
<rect x="900" y="798" width="1" height="3" fill="#000"/>
<text x="899" y="810" font-size="10" fill="#000" textLength="46.5" lengthAdjust="spacingAndGlyphs"  stroke="#000" stroke-width="0.15">25 Jul 2019</text>
<rect x="964" y="798" width="1" height="3" fill="#000"/>
<text x="963" y="810" font-size="10" fill="#000" textLength="52" lengthAdjust="spacingAndGlyphs"  stroke="#000" stroke-width="0.15">13 Aug 2019</text>
<rect x="1028" y="798" width="1" height="3" fill="#000"/>
<text x="1027" y="810" font-size="10" fill="#000" textLength="46.5" lengthAdjust="spacingAndGlyphs"  stroke="#000" stroke-width="0.15">1 Sep 2019</text>
<rect x="1092" y="798" width="1" height="3" fill="#000"/>
<text x="1091" y="810" font-size="10" fill="#000" textLength="51.4" lengthAdjust="spacingAndGlyphs"  stroke="#000" stroke-width="0.15">19 Sep 2019</text>
<rect x="1" y="818" width="1460" height="1" fill="#e3e3e3"/>
<rect x="0" y="819" width="1461" height="23" fill="#f0f0f0"/>
<rect x="0" y="820" width="1461" height="1" fill="#000"/>
<rect x="0" y="840" width="1461" height="2" fill="#fafafa"/>
<rect x="1" y="821" width="1460" height="1" fill="#ffffff"/>
<rect x="1" y="821" width="1" height="18" fill="#ffffff"/>
<rect x="0" y="821" width="1" height="18" fill="#696969"/>
<rect x="113" y="823" width="1" height="14" fill="#6d6d6d"/>
<rect x="437" y="823" width="1" height="14" fill="#6d6d6d"/>
<rect x="549" y="823" width="1" height="14" fill="#6d6d6d"/>
<rect x="669" y="823" width="1" height="14" fill="#6d6d6d"/>
<rect x="777" y="823" width="1" height="14" fill="#6d6d6d"/>
<rect x="873" y="823" width="1" height="14" fill="#6d6d6d"/>
<rect x="953" y="823" width="1" height="14" fill="#6d6d6d"/>
<rect x="1057" y="823" width="1" height="14" fill="#6d6d6d"/>
<rect x="1177" y="823" width="1" height="14" fill="#6d6d6d"/>
<rect x="221" y="820" width="108" height="19" fill="#fff"/>
<path d="M221.5,820 V838.5 H328.5 V820" fill="none" stroke="#000" stroke-width="1"/>
<rect x="222" y="820" width="106" height="1" fill="#fff"/>
<text x="16.4" y="835" font-size="12" fill="#6d6d6d" textLength="84.4" lengthAdjust="spacingAndGlyphs" >EURUSD-,Daily</text>
<text x="123.3" y="835" font-size="12" fill="#6d6d6d" textLength="86.3" lengthAdjust="spacingAndGlyphs" >AUDUSD-,Daily</text>
<text x="233.4" y="835" font-size="12" fill="#000" textLength="83.6" lengthAdjust="spacingAndGlyphs" >USDCHF-,Daily</text>
<text x="340.5" y="835" font-size="12" fill="#6d6d6d" textLength="85.5" lengthAdjust="spacingAndGlyphs" >USDCAD-,Daily</text>
<text x="449.5" y="835" font-size="12" fill="#6d6d6d" textLength="87.4" lengthAdjust="spacingAndGlyphs" >USDCNH-,Daily</text>
<text x="560.4" y="835" font-size="12" fill="#6d6d6d" textLength="96.3" lengthAdjust="spacingAndGlyphs" >EURCHF-,Weekly</text>
<text x="680" y="835" font-size="12" fill="#6d6d6d" textLength="85.7" lengthAdjust="spacingAndGlyphs" >XAUUSD-,Daily</text>
<text x="788.6" y="835" font-size="12" fill="#6d6d6d" textLength="72.2" lengthAdjust="spacingAndGlyphs" >GBPUSD-,H1</text>
<text x="884" y="835" font-size="12" fill="#6d6d6d" textLength="56.4" lengthAdjust="spacingAndGlyphs" >UKOil-,H1</text>
<text x="963.3" y="835" font-size="12" fill="#6d6d6d" textLength="82.5" lengthAdjust="spacingAndGlyphs" >USDX-,Weekly</text>
<text x="1068.7" y="835" font-size="12" fill="#6d6d6d" textLength="96.3" lengthAdjust="spacingAndGlyphs" >EURCHF-,Weekly</text>
<polygon points="1435,829 1438,825.5 1438,832.5" fill="#a0a0a0"/>
<polygon points="1457,829 1454,825.5 1454,832.5" fill="#a0a0a0"/>
</svg>
</body></html>
